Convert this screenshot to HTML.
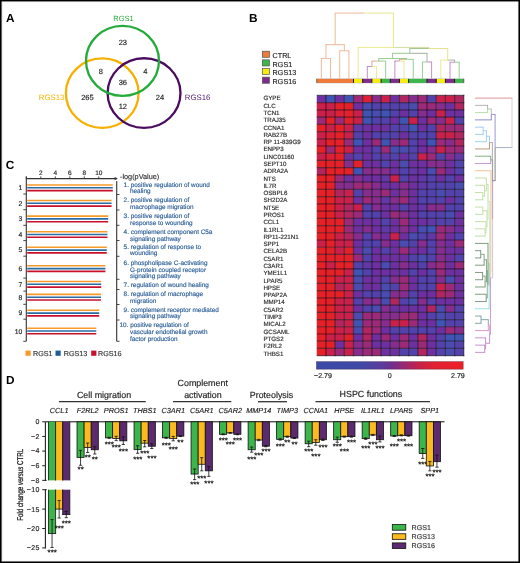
<!DOCTYPE html>
<html><head><meta charset="utf-8"><style>
html,body{margin:0;padding:0;background:#fff;}
svg{display:block;will-change:transform;}
text{font-family:"Liberation Sans", sans-serif;text-rendering:geometricPrecision;}
</style></head><body>
<svg width="520" height="563" viewBox="0 0 520 563">
<rect x="0" y="0" width="520" height="563" fill="#fff"/>
<text x="6.10" y="22.30" font-size="11.8" fill="#000" text-anchor="start" font-weight="bold">A</text>
<text x="248.90" y="22.30" font-size="11.8" fill="#000" text-anchor="start" font-weight="bold">B</text>
<text x="5.70" y="169.20" font-size="11.8" fill="#000" text-anchor="start" font-weight="bold">C</text>
<text x="6.10" y="384.10" font-size="11.8" fill="#000" text-anchor="start" font-weight="bold">D</text>
<ellipse cx="102.25" cy="93.15" rx="36.35" ry="34.75" fill="none" stroke="#f5b000" stroke-width="2.3"/>
<ellipse cx="144.05" cy="93.1" rx="36.45" ry="34.85" fill="none" stroke="#4a0b60" stroke-width="2.3"/>
<ellipse cx="122.5" cy="60.8" rx="36.5" ry="35.0" fill="none" stroke="#25ab3a" stroke-width="2.3"/>
<text x="123.50" y="21.00" font-size="7.5" fill="#25ab3a" text-anchor="middle">RGS1</text>
<text x="51.60" y="99.95" font-size="7.8" fill="#f5b000" text-anchor="middle">RGS13</text>
<text x="197.60" y="100.30" font-size="7.8" fill="#552070" text-anchor="middle">RGS16</text>
<text x="122.80" y="44.70" font-size="7.5" fill="#222" text-anchor="middle" stroke="#222" stroke-width="0.15">23</text>
<text x="100.80" y="73.50" font-size="7.5" fill="#222" text-anchor="middle" stroke="#222" stroke-width="0.15">8</text>
<text x="145.40" y="73.50" font-size="7.5" fill="#222" text-anchor="middle" stroke="#222" stroke-width="0.15">4</text>
<text x="122.80" y="85.00" font-size="7.5" fill="#222" text-anchor="middle" stroke="#222" stroke-width="0.15">36</text>
<text x="87.40" y="100.10" font-size="7.5" fill="#222" text-anchor="middle" stroke="#222" stroke-width="0.15">265</text>
<text x="160.00" y="100.40" font-size="7.5" fill="#222" text-anchor="middle" stroke="#222" stroke-width="0.15">24</text>
<text x="122.80" y="108.50" font-size="7.5" fill="#222" text-anchor="middle" stroke="#222" stroke-width="0.15">12</text>
<rect x="262.40" y="51.20" width="7.00" height="6.10" fill="#f07a38" stroke="#555" stroke-width="0.7"/>
<text x="272.60" y="57.90" font-size="7.2" fill="#222" text-anchor="start" stroke="#222" stroke-width="0.15">CTRL</text>
<rect x="262.40" y="59.85" width="7.00" height="6.10" fill="#3cb54a" stroke="#555" stroke-width="0.7"/>
<text x="272.60" y="66.55" font-size="7.2" fill="#222" text-anchor="start" stroke="#222" stroke-width="0.15">RGS1</text>
<rect x="262.40" y="68.50" width="7.00" height="6.10" fill="#f5ee10" stroke="#555" stroke-width="0.7"/>
<text x="272.60" y="75.20" font-size="7.2" fill="#222" text-anchor="start" stroke="#222" stroke-width="0.15">RGS13</text>
<rect x="262.40" y="77.15" width="7.00" height="6.10" fill="#7e2a8e" stroke="#555" stroke-width="0.7"/>
<text x="272.60" y="83.85" font-size="7.2" fill="#222" text-anchor="start" stroke="#222" stroke-width="0.15">RGS16</text>
<line x1="321.35" y1="78.80" x2="321.35" y2="58.50" stroke="#eeb090" stroke-width="0.9"/>
<line x1="330.54" y1="78.80" x2="330.54" y2="58.50" stroke="#eeb090" stroke-width="0.9"/>
<line x1="320.90" y1="58.50" x2="325.94" y2="58.50" stroke="#eeb090" stroke-width="0.9"/>
<line x1="325.94" y1="58.50" x2="330.99" y2="58.50" stroke="#eeb090" stroke-width="0.9"/>
<line x1="339.73" y1="78.80" x2="339.73" y2="50.80" stroke="#eeb090" stroke-width="0.9"/>
<line x1="348.92" y1="78.80" x2="348.92" y2="50.80" stroke="#eeb090" stroke-width="0.9"/>
<line x1="339.28" y1="50.80" x2="344.32" y2="50.80" stroke="#eeb090" stroke-width="0.9"/>
<line x1="344.32" y1="50.80" x2="349.37" y2="50.80" stroke="#eeb090" stroke-width="0.9"/>
<line x1="325.94" y1="58.50" x2="325.94" y2="44.70" stroke="#eeb090" stroke-width="0.9"/>
<line x1="344.32" y1="50.80" x2="344.32" y2="44.70" stroke="#eeb090" stroke-width="0.9"/>
<line x1="325.49" y1="44.70" x2="335.13" y2="44.70" stroke="#eeb090" stroke-width="0.9"/>
<line x1="335.13" y1="44.70" x2="344.77" y2="44.70" stroke="#eeb090" stroke-width="0.9"/>
<line x1="367.30" y1="78.80" x2="367.30" y2="66.50" stroke="#c080c8" stroke-width="0.9"/>
<line x1="376.49" y1="78.80" x2="376.49" y2="66.50" stroke="#e8e888" stroke-width="0.9"/>
<line x1="366.85" y1="66.50" x2="371.89" y2="66.50" stroke="#c080c8" stroke-width="0.9"/>
<line x1="371.89" y1="66.50" x2="376.94" y2="66.50" stroke="#e8e888" stroke-width="0.9"/>
<line x1="371.89" y1="66.50" x2="371.89" y2="61.10" stroke="#d0a880" stroke-width="0.9"/>
<line x1="385.68" y1="78.80" x2="385.68" y2="61.10" stroke="#88cc88" stroke-width="0.9"/>
<line x1="371.44" y1="61.10" x2="378.78" y2="61.10" stroke="#d0a880" stroke-width="0.9"/>
<line x1="378.78" y1="61.10" x2="386.12" y2="61.10" stroke="#88cc88" stroke-width="0.9"/>
<line x1="394.87" y1="78.80" x2="394.87" y2="61.00" stroke="#c080c8" stroke-width="0.9"/>
<line x1="404.06" y1="78.80" x2="404.06" y2="61.00" stroke="#e8e888" stroke-width="0.9"/>
<line x1="394.42" y1="61.00" x2="399.46" y2="61.00" stroke="#c080c8" stroke-width="0.9"/>
<line x1="399.46" y1="61.00" x2="404.50" y2="61.00" stroke="#e8e888" stroke-width="0.9"/>
<line x1="399.46" y1="61.00" x2="399.46" y2="59.30" stroke="#d0a880" stroke-width="0.9"/>
<line x1="413.25" y1="78.80" x2="413.25" y2="59.30" stroke="#88cc88" stroke-width="0.9"/>
<line x1="399.01" y1="59.30" x2="406.35" y2="59.30" stroke="#d0a880" stroke-width="0.9"/>
<line x1="406.35" y1="59.30" x2="413.69" y2="59.30" stroke="#88cc88" stroke-width="0.9"/>
<line x1="378.78" y1="61.10" x2="378.78" y2="58.50" stroke="#90c888" stroke-width="0.9"/>
<line x1="406.35" y1="59.30" x2="406.35" y2="58.50" stroke="#90c888" stroke-width="0.9"/>
<line x1="378.33" y1="58.50" x2="392.57" y2="58.50" stroke="#90c888" stroke-width="0.9"/>
<line x1="392.57" y1="58.50" x2="406.80" y2="58.50" stroke="#90c888" stroke-width="0.9"/>
<line x1="422.44" y1="78.80" x2="422.44" y2="62.00" stroke="#88cc88" stroke-width="0.9"/>
<line x1="431.62" y1="78.80" x2="431.62" y2="62.00" stroke="#c080c8" stroke-width="0.9"/>
<line x1="421.99" y1="62.00" x2="427.03" y2="62.00" stroke="#88cc88" stroke-width="0.9"/>
<line x1="427.03" y1="62.00" x2="432.07" y2="62.00" stroke="#c080c8" stroke-width="0.9"/>
<line x1="392.57" y1="58.50" x2="392.57" y2="53.30" stroke="#90c488" stroke-width="0.9"/>
<line x1="427.03" y1="62.00" x2="427.03" y2="53.30" stroke="#98a898" stroke-width="0.9"/>
<line x1="392.12" y1="53.30" x2="409.80" y2="53.30" stroke="#90c488" stroke-width="0.9"/>
<line x1="409.80" y1="53.30" x2="427.48" y2="53.30" stroke="#98a898" stroke-width="0.9"/>
<line x1="450.00" y1="78.80" x2="450.00" y2="62.20" stroke="#c080c8" stroke-width="0.9"/>
<line x1="459.19" y1="78.80" x2="459.19" y2="62.20" stroke="#88cc88" stroke-width="0.9"/>
<line x1="449.56" y1="62.20" x2="454.60" y2="62.20" stroke="#c080c8" stroke-width="0.9"/>
<line x1="454.60" y1="62.20" x2="459.64" y2="62.20" stroke="#88cc88" stroke-width="0.9"/>
<line x1="440.81" y1="78.80" x2="440.81" y2="60.10" stroke="#e8e888" stroke-width="0.9"/>
<line x1="454.60" y1="62.20" x2="454.60" y2="60.10" stroke="#a0a8a0" stroke-width="0.9"/>
<line x1="440.37" y1="60.10" x2="447.71" y2="60.10" stroke="#e8e888" stroke-width="0.9"/>
<line x1="447.71" y1="60.10" x2="455.05" y2="60.10" stroke="#a0a8a0" stroke-width="0.9"/>
<line x1="409.80" y1="53.30" x2="409.80" y2="48.50" stroke="#98c088" stroke-width="0.9"/>
<line x1="447.71" y1="60.10" x2="447.71" y2="48.50" stroke="#e0e080" stroke-width="0.9"/>
<line x1="409.35" y1="48.50" x2="428.75" y2="48.50" stroke="#98c088" stroke-width="0.9"/>
<line x1="428.75" y1="48.50" x2="448.16" y2="48.50" stroke="#e0e080" stroke-width="0.9"/>
<line x1="358.11" y1="78.80" x2="358.11" y2="47.40" stroke="#e8e888" stroke-width="0.9"/>
<line x1="428.75" y1="48.50" x2="428.75" y2="47.40" stroke="#cad898" stroke-width="0.9"/>
<line x1="357.66" y1="47.40" x2="393.43" y2="47.40" stroke="#e8e888" stroke-width="0.9"/>
<line x1="393.43" y1="47.40" x2="429.20" y2="47.40" stroke="#cad898" stroke-width="0.9"/>
<line x1="335.13" y1="44.70" x2="335.13" y2="13.10" stroke="#eeb090" stroke-width="0.9"/>
<line x1="393.43" y1="47.40" x2="393.43" y2="13.10" stroke="#e4e484" stroke-width="0.9"/>
<line x1="334.68" y1="13.10" x2="364.28" y2="13.10" stroke="#eeb090" stroke-width="0.9"/>
<line x1="364.28" y1="13.10" x2="393.88" y2="13.10" stroke="#e4e484" stroke-width="0.9"/>
<rect x="316.45" y="78.50" width="147.64" height="4.80" fill="#b8b8b8"/>
<rect x="316.75" y="78.90" width="36.76" height="4.00" fill="#f07a38"/>
<rect x="353.51" y="78.90" width="9.19" height="4.00" fill="#f5ee10"/>
<rect x="362.70" y="78.90" width="9.19" height="4.00" fill="#7e2a8e"/>
<rect x="371.89" y="78.90" width="9.19" height="4.00" fill="#f5ee10"/>
<rect x="381.08" y="78.90" width="9.19" height="4.00" fill="#3cb54a"/>
<rect x="390.27" y="78.90" width="9.19" height="4.00" fill="#7e2a8e"/>
<rect x="399.46" y="78.90" width="9.19" height="4.00" fill="#f5ee10"/>
<rect x="408.65" y="78.90" width="18.38" height="4.00" fill="#3cb54a"/>
<rect x="427.03" y="78.90" width="9.19" height="4.00" fill="#7e2a8e"/>
<rect x="436.22" y="78.90" width="9.19" height="4.00" fill="#f5ee10"/>
<rect x="445.41" y="78.90" width="9.19" height="4.00" fill="#7e2a8e"/>
<rect x="454.60" y="78.90" width="9.19" height="4.00" fill="#3cb54a"/>
<line x1="353.51" y1="78.90" x2="353.51" y2="82.90" stroke="#1a1a1a" stroke-width="1.0"/>
<line x1="362.70" y1="78.90" x2="362.70" y2="82.90" stroke="#1a1a1a" stroke-width="1.0"/>
<line x1="371.89" y1="78.90" x2="371.89" y2="82.90" stroke="#1a1a1a" stroke-width="1.0"/>
<line x1="381.08" y1="78.90" x2="381.08" y2="82.90" stroke="#1a1a1a" stroke-width="1.0"/>
<line x1="390.27" y1="78.90" x2="390.27" y2="82.90" stroke="#1a1a1a" stroke-width="1.0"/>
<line x1="399.46" y1="78.90" x2="399.46" y2="82.90" stroke="#1a1a1a" stroke-width="1.0"/>
<line x1="408.65" y1="78.90" x2="408.65" y2="82.90" stroke="#1a1a1a" stroke-width="1.0"/>
<line x1="427.03" y1="78.90" x2="427.03" y2="82.90" stroke="#1a1a1a" stroke-width="1.0"/>
<line x1="436.22" y1="78.90" x2="436.22" y2="82.90" stroke="#1a1a1a" stroke-width="1.0"/>
<line x1="445.41" y1="78.90" x2="445.41" y2="82.90" stroke="#1a1a1a" stroke-width="1.0"/>
<line x1="454.60" y1="78.90" x2="454.60" y2="82.90" stroke="#1a1a1a" stroke-width="1.0"/>
<line x1="316.75" y1="78.90" x2="316.75" y2="82.90" stroke="#555" stroke-width="0.8"/>
<line x1="463.79" y1="78.90" x2="463.79" y2="82.90" stroke="#555" stroke-width="0.8"/>
<rect x="316.75" y="95.40" width="9.24" height="7.28" fill="#6e30a0"/>
<rect x="325.94" y="95.40" width="9.24" height="7.28" fill="#3f55b3"/>
<rect x="335.13" y="95.40" width="9.24" height="7.28" fill="#6e30a0"/>
<rect x="344.32" y="95.40" width="9.24" height="7.28" fill="#3f55b3"/>
<rect x="353.51" y="95.40" width="9.24" height="7.28" fill="#9c2a78"/>
<rect x="362.70" y="95.40" width="9.24" height="7.28" fill="#de2036"/>
<rect x="371.89" y="95.40" width="9.24" height="7.28" fill="#862d8e"/>
<rect x="381.08" y="95.40" width="9.24" height="7.28" fill="#ca2049"/>
<rect x="390.27" y="95.40" width="9.24" height="7.28" fill="#6e30a0"/>
<rect x="399.46" y="95.40" width="9.24" height="7.28" fill="#b2265f"/>
<rect x="408.65" y="95.40" width="9.24" height="7.28" fill="#862d8e"/>
<rect x="417.84" y="95.40" width="9.24" height="7.28" fill="#9c2a78"/>
<rect x="427.03" y="95.40" width="9.24" height="7.28" fill="#5442ac"/>
<rect x="436.22" y="95.40" width="9.24" height="7.28" fill="#ca2049"/>
<rect x="445.41" y="95.40" width="9.24" height="7.28" fill="#ca2049"/>
<rect x="454.60" y="95.40" width="9.24" height="7.28" fill="#b2265f"/>
<rect x="316.75" y="102.63" width="9.24" height="7.28" fill="#ca2049"/>
<rect x="325.94" y="102.63" width="9.24" height="7.28" fill="#ca2049"/>
<rect x="335.13" y="102.63" width="9.24" height="7.28" fill="#e52027"/>
<rect x="344.32" y="102.63" width="9.24" height="7.28" fill="#e52027"/>
<rect x="353.51" y="102.63" width="9.24" height="7.28" fill="#6e30a0"/>
<rect x="362.70" y="102.63" width="9.24" height="7.28" fill="#4a4cb0"/>
<rect x="371.89" y="102.63" width="9.24" height="7.28" fill="#5442ac"/>
<rect x="381.08" y="102.63" width="9.24" height="7.28" fill="#5442ac"/>
<rect x="390.27" y="102.63" width="9.24" height="7.28" fill="#5442ac"/>
<rect x="399.46" y="102.63" width="9.24" height="7.28" fill="#5442ac"/>
<rect x="408.65" y="102.63" width="9.24" height="7.28" fill="#4a4cb0"/>
<rect x="417.84" y="102.63" width="9.24" height="7.28" fill="#9c2a78"/>
<rect x="427.03" y="102.63" width="9.24" height="7.28" fill="#9c2a78"/>
<rect x="436.22" y="102.63" width="9.24" height="7.28" fill="#862d8e"/>
<rect x="445.41" y="102.63" width="9.24" height="7.28" fill="#6e30a0"/>
<rect x="454.60" y="102.63" width="9.24" height="7.28" fill="#b2265f"/>
<rect x="316.75" y="109.86" width="9.24" height="7.28" fill="#ca2049"/>
<rect x="325.94" y="109.86" width="9.24" height="7.28" fill="#ca2049"/>
<rect x="335.13" y="109.86" width="9.24" height="7.28" fill="#de2036"/>
<rect x="344.32" y="109.86" width="9.24" height="7.28" fill="#e52027"/>
<rect x="353.51" y="109.86" width="9.24" height="7.28" fill="#ca2049"/>
<rect x="362.70" y="109.86" width="9.24" height="7.28" fill="#3f55b3"/>
<rect x="371.89" y="109.86" width="9.24" height="7.28" fill="#4a4cb0"/>
<rect x="381.08" y="109.86" width="9.24" height="7.28" fill="#3f55b3"/>
<rect x="390.27" y="109.86" width="9.24" height="7.28" fill="#5442ac"/>
<rect x="399.46" y="109.86" width="9.24" height="7.28" fill="#6e30a0"/>
<rect x="408.65" y="109.86" width="9.24" height="7.28" fill="#5442ac"/>
<rect x="417.84" y="109.86" width="9.24" height="7.28" fill="#862d8e"/>
<rect x="427.03" y="109.86" width="9.24" height="7.28" fill="#6e30a0"/>
<rect x="436.22" y="109.86" width="9.24" height="7.28" fill="#ca2049"/>
<rect x="445.41" y="109.86" width="9.24" height="7.28" fill="#6e30a0"/>
<rect x="454.60" y="109.86" width="9.24" height="7.28" fill="#6e30a0"/>
<rect x="316.75" y="117.09" width="9.24" height="7.28" fill="#9c2a78"/>
<rect x="325.94" y="117.09" width="9.24" height="7.28" fill="#e52027"/>
<rect x="335.13" y="117.09" width="9.24" height="7.28" fill="#9c2a78"/>
<rect x="344.32" y="117.09" width="9.24" height="7.28" fill="#e52027"/>
<rect x="353.51" y="117.09" width="9.24" height="7.28" fill="#ca2049"/>
<rect x="362.70" y="117.09" width="9.24" height="7.28" fill="#3f55b3"/>
<rect x="371.89" y="117.09" width="9.24" height="7.28" fill="#5442ac"/>
<rect x="381.08" y="117.09" width="9.24" height="7.28" fill="#5442ac"/>
<rect x="390.27" y="117.09" width="9.24" height="7.28" fill="#6e30a0"/>
<rect x="399.46" y="117.09" width="9.24" height="7.28" fill="#3f55b3"/>
<rect x="408.65" y="117.09" width="9.24" height="7.28" fill="#ca2049"/>
<rect x="417.84" y="117.09" width="9.24" height="7.28" fill="#6e30a0"/>
<rect x="427.03" y="117.09" width="9.24" height="7.28" fill="#9c2a78"/>
<rect x="436.22" y="117.09" width="9.24" height="7.28" fill="#862d8e"/>
<rect x="445.41" y="117.09" width="9.24" height="7.28" fill="#ca2049"/>
<rect x="454.60" y="117.09" width="9.24" height="7.28" fill="#5442ac"/>
<rect x="316.75" y="124.32" width="9.24" height="7.28" fill="#e52027"/>
<rect x="325.94" y="124.32" width="9.24" height="7.28" fill="#ca2049"/>
<rect x="335.13" y="124.32" width="9.24" height="7.28" fill="#e52027"/>
<rect x="344.32" y="124.32" width="9.24" height="7.28" fill="#ca2049"/>
<rect x="353.51" y="124.32" width="9.24" height="7.28" fill="#6238a6"/>
<rect x="362.70" y="124.32" width="9.24" height="7.28" fill="#6e30a0"/>
<rect x="371.89" y="124.32" width="9.24" height="7.28" fill="#6e30a0"/>
<rect x="381.08" y="124.32" width="9.24" height="7.28" fill="#6e30a0"/>
<rect x="390.27" y="124.32" width="9.24" height="7.28" fill="#5442ac"/>
<rect x="399.46" y="124.32" width="9.24" height="7.28" fill="#5442ac"/>
<rect x="408.65" y="124.32" width="9.24" height="7.28" fill="#3f55b3"/>
<rect x="417.84" y="124.32" width="9.24" height="7.28" fill="#6e30a0"/>
<rect x="427.03" y="124.32" width="9.24" height="7.28" fill="#5442ac"/>
<rect x="436.22" y="124.32" width="9.24" height="7.28" fill="#b2265f"/>
<rect x="445.41" y="124.32" width="9.24" height="7.28" fill="#9c2a78"/>
<rect x="454.60" y="124.32" width="9.24" height="7.28" fill="#9c2a78"/>
<rect x="316.75" y="131.55" width="9.24" height="7.28" fill="#ca2049"/>
<rect x="325.94" y="131.55" width="9.24" height="7.28" fill="#de2036"/>
<rect x="335.13" y="131.55" width="9.24" height="7.28" fill="#e52027"/>
<rect x="344.32" y="131.55" width="9.24" height="7.28" fill="#ca2049"/>
<rect x="353.51" y="131.55" width="9.24" height="7.28" fill="#5442ac"/>
<rect x="362.70" y="131.55" width="9.24" height="7.28" fill="#6e30a0"/>
<rect x="371.89" y="131.55" width="9.24" height="7.28" fill="#5442ac"/>
<rect x="381.08" y="131.55" width="9.24" height="7.28" fill="#5442ac"/>
<rect x="390.27" y="131.55" width="9.24" height="7.28" fill="#5442ac"/>
<rect x="399.46" y="131.55" width="9.24" height="7.28" fill="#6e30a0"/>
<rect x="408.65" y="131.55" width="9.24" height="7.28" fill="#5442ac"/>
<rect x="417.84" y="131.55" width="9.24" height="7.28" fill="#5442ac"/>
<rect x="427.03" y="131.55" width="9.24" height="7.28" fill="#5442ac"/>
<rect x="436.22" y="131.55" width="9.24" height="7.28" fill="#ca2049"/>
<rect x="445.41" y="131.55" width="9.24" height="7.28" fill="#ca2049"/>
<rect x="454.60" y="131.55" width="9.24" height="7.28" fill="#b2265f"/>
<rect x="316.75" y="138.78" width="9.24" height="7.28" fill="#ca2049"/>
<rect x="325.94" y="138.78" width="9.24" height="7.28" fill="#e52027"/>
<rect x="335.13" y="138.78" width="9.24" height="7.28" fill="#e52027"/>
<rect x="344.32" y="138.78" width="9.24" height="7.28" fill="#9c2a78"/>
<rect x="353.51" y="138.78" width="9.24" height="7.28" fill="#3f55b3"/>
<rect x="362.70" y="138.78" width="9.24" height="7.28" fill="#6e30a0"/>
<rect x="371.89" y="138.78" width="9.24" height="7.28" fill="#9c2a78"/>
<rect x="381.08" y="138.78" width="9.24" height="7.28" fill="#3f55b3"/>
<rect x="390.27" y="138.78" width="9.24" height="7.28" fill="#862d8e"/>
<rect x="399.46" y="138.78" width="9.24" height="7.28" fill="#9c2a78"/>
<rect x="408.65" y="138.78" width="9.24" height="7.28" fill="#5442ac"/>
<rect x="417.84" y="138.78" width="9.24" height="7.28" fill="#6e30a0"/>
<rect x="427.03" y="138.78" width="9.24" height="7.28" fill="#3f55b3"/>
<rect x="436.22" y="138.78" width="9.24" height="7.28" fill="#9c2a78"/>
<rect x="445.41" y="138.78" width="9.24" height="7.28" fill="#862d8e"/>
<rect x="454.60" y="138.78" width="9.24" height="7.28" fill="#b2265f"/>
<rect x="316.75" y="146.01" width="9.24" height="7.28" fill="#e52027"/>
<rect x="325.94" y="146.01" width="9.24" height="7.28" fill="#9c2a78"/>
<rect x="335.13" y="146.01" width="9.24" height="7.28" fill="#e52027"/>
<rect x="344.32" y="146.01" width="9.24" height="7.28" fill="#ca2049"/>
<rect x="353.51" y="146.01" width="9.24" height="7.28" fill="#6e30a0"/>
<rect x="362.70" y="146.01" width="9.24" height="7.28" fill="#6e30a0"/>
<rect x="371.89" y="146.01" width="9.24" height="7.28" fill="#5442ac"/>
<rect x="381.08" y="146.01" width="9.24" height="7.28" fill="#9c2a78"/>
<rect x="390.27" y="146.01" width="9.24" height="7.28" fill="#4a4cb0"/>
<rect x="399.46" y="146.01" width="9.24" height="7.28" fill="#4a4cb0"/>
<rect x="408.65" y="146.01" width="9.24" height="7.28" fill="#5442ac"/>
<rect x="417.84" y="146.01" width="9.24" height="7.28" fill="#6e30a0"/>
<rect x="427.03" y="146.01" width="9.24" height="7.28" fill="#862d8e"/>
<rect x="436.22" y="146.01" width="9.24" height="7.28" fill="#ca2049"/>
<rect x="445.41" y="146.01" width="9.24" height="7.28" fill="#9c2a78"/>
<rect x="454.60" y="146.01" width="9.24" height="7.28" fill="#9c2a78"/>
<rect x="316.75" y="153.24" width="9.24" height="7.28" fill="#ca2049"/>
<rect x="325.94" y="153.24" width="9.24" height="7.28" fill="#de2036"/>
<rect x="335.13" y="153.24" width="9.24" height="7.28" fill="#e52027"/>
<rect x="344.32" y="153.24" width="9.24" height="7.28" fill="#6e30a0"/>
<rect x="353.51" y="153.24" width="9.24" height="7.28" fill="#5442ac"/>
<rect x="362.70" y="153.24" width="9.24" height="7.28" fill="#6e30a0"/>
<rect x="371.89" y="153.24" width="9.24" height="7.28" fill="#5442ac"/>
<rect x="381.08" y="153.24" width="9.24" height="7.28" fill="#6238a6"/>
<rect x="390.27" y="153.24" width="9.24" height="7.28" fill="#5442ac"/>
<rect x="399.46" y="153.24" width="9.24" height="7.28" fill="#6e30a0"/>
<rect x="408.65" y="153.24" width="9.24" height="7.28" fill="#5442ac"/>
<rect x="417.84" y="153.24" width="9.24" height="7.28" fill="#ca2049"/>
<rect x="427.03" y="153.24" width="9.24" height="7.28" fill="#9c2a78"/>
<rect x="436.22" y="153.24" width="9.24" height="7.28" fill="#5442ac"/>
<rect x="445.41" y="153.24" width="9.24" height="7.28" fill="#862d8e"/>
<rect x="454.60" y="153.24" width="9.24" height="7.28" fill="#6238a6"/>
<rect x="316.75" y="160.47" width="9.24" height="7.28" fill="#e52027"/>
<rect x="325.94" y="160.47" width="9.24" height="7.28" fill="#e52027"/>
<rect x="335.13" y="160.47" width="9.24" height="7.28" fill="#e52027"/>
<rect x="344.32" y="160.47" width="9.24" height="7.28" fill="#862d8e"/>
<rect x="353.51" y="160.47" width="9.24" height="7.28" fill="#e52027"/>
<rect x="362.70" y="160.47" width="9.24" height="7.28" fill="#6e30a0"/>
<rect x="371.89" y="160.47" width="9.24" height="7.28" fill="#6e30a0"/>
<rect x="381.08" y="160.47" width="9.24" height="7.28" fill="#5442ac"/>
<rect x="390.27" y="160.47" width="9.24" height="7.28" fill="#6e30a0"/>
<rect x="399.46" y="160.47" width="9.24" height="7.28" fill="#4a4cb0"/>
<rect x="408.65" y="160.47" width="9.24" height="7.28" fill="#6e30a0"/>
<rect x="417.84" y="160.47" width="9.24" height="7.28" fill="#6e30a0"/>
<rect x="427.03" y="160.47" width="9.24" height="7.28" fill="#862d8e"/>
<rect x="436.22" y="160.47" width="9.24" height="7.28" fill="#862d8e"/>
<rect x="445.41" y="160.47" width="9.24" height="7.28" fill="#6e30a0"/>
<rect x="454.60" y="160.47" width="9.24" height="7.28" fill="#5442ac"/>
<rect x="316.75" y="167.70" width="9.24" height="7.28" fill="#b2265f"/>
<rect x="325.94" y="167.70" width="9.24" height="7.28" fill="#e52027"/>
<rect x="335.13" y="167.70" width="9.24" height="7.28" fill="#e52027"/>
<rect x="344.32" y="167.70" width="9.24" height="7.28" fill="#e52027"/>
<rect x="353.51" y="167.70" width="9.24" height="7.28" fill="#3f55b3"/>
<rect x="362.70" y="167.70" width="9.24" height="7.28" fill="#862d8e"/>
<rect x="371.89" y="167.70" width="9.24" height="7.28" fill="#862d8e"/>
<rect x="381.08" y="167.70" width="9.24" height="7.28" fill="#862d8e"/>
<rect x="390.27" y="167.70" width="9.24" height="7.28" fill="#6e30a0"/>
<rect x="399.46" y="167.70" width="9.24" height="7.28" fill="#5442ac"/>
<rect x="408.65" y="167.70" width="9.24" height="7.28" fill="#6238a6"/>
<rect x="417.84" y="167.70" width="9.24" height="7.28" fill="#6e30a0"/>
<rect x="427.03" y="167.70" width="9.24" height="7.28" fill="#4a4cb0"/>
<rect x="436.22" y="167.70" width="9.24" height="7.28" fill="#9c2a78"/>
<rect x="445.41" y="167.70" width="9.24" height="7.28" fill="#6e30a0"/>
<rect x="454.60" y="167.70" width="9.24" height="7.28" fill="#5442ac"/>
<rect x="316.75" y="174.93" width="9.24" height="7.28" fill="#e52027"/>
<rect x="325.94" y="174.93" width="9.24" height="7.28" fill="#e52027"/>
<rect x="335.13" y="174.93" width="9.24" height="7.28" fill="#9c2a78"/>
<rect x="344.32" y="174.93" width="9.24" height="7.28" fill="#6e30a0"/>
<rect x="353.51" y="174.93" width="9.24" height="7.28" fill="#862d8e"/>
<rect x="362.70" y="174.93" width="9.24" height="7.28" fill="#6e30a0"/>
<rect x="371.89" y="174.93" width="9.24" height="7.28" fill="#6e30a0"/>
<rect x="381.08" y="174.93" width="9.24" height="7.28" fill="#6238a6"/>
<rect x="390.27" y="174.93" width="9.24" height="7.28" fill="#ca2049"/>
<rect x="399.46" y="174.93" width="9.24" height="7.28" fill="#5442ac"/>
<rect x="408.65" y="174.93" width="9.24" height="7.28" fill="#6e30a0"/>
<rect x="417.84" y="174.93" width="9.24" height="7.28" fill="#6238a6"/>
<rect x="427.03" y="174.93" width="9.24" height="7.28" fill="#5442ac"/>
<rect x="436.22" y="174.93" width="9.24" height="7.28" fill="#6e30a0"/>
<rect x="445.41" y="174.93" width="9.24" height="7.28" fill="#5442ac"/>
<rect x="454.60" y="174.93" width="9.24" height="7.28" fill="#6e30a0"/>
<rect x="316.75" y="182.16" width="9.24" height="7.28" fill="#e52027"/>
<rect x="325.94" y="182.16" width="9.24" height="7.28" fill="#e52027"/>
<rect x="335.13" y="182.16" width="9.24" height="7.28" fill="#862d8e"/>
<rect x="344.32" y="182.16" width="9.24" height="7.28" fill="#862d8e"/>
<rect x="353.51" y="182.16" width="9.24" height="7.28" fill="#9c2a78"/>
<rect x="362.70" y="182.16" width="9.24" height="7.28" fill="#9c2a78"/>
<rect x="371.89" y="182.16" width="9.24" height="7.28" fill="#862d8e"/>
<rect x="381.08" y="182.16" width="9.24" height="7.28" fill="#6e30a0"/>
<rect x="390.27" y="182.16" width="9.24" height="7.28" fill="#6e30a0"/>
<rect x="399.46" y="182.16" width="9.24" height="7.28" fill="#862d8e"/>
<rect x="408.65" y="182.16" width="9.24" height="7.28" fill="#6e30a0"/>
<rect x="417.84" y="182.16" width="9.24" height="7.28" fill="#6238a6"/>
<rect x="427.03" y="182.16" width="9.24" height="7.28" fill="#5442ac"/>
<rect x="436.22" y="182.16" width="9.24" height="7.28" fill="#5442ac"/>
<rect x="445.41" y="182.16" width="9.24" height="7.28" fill="#5442ac"/>
<rect x="454.60" y="182.16" width="9.24" height="7.28" fill="#4a4cb0"/>
<rect x="316.75" y="189.39" width="9.24" height="7.28" fill="#e52027"/>
<rect x="325.94" y="189.39" width="9.24" height="7.28" fill="#e52027"/>
<rect x="335.13" y="189.39" width="9.24" height="7.28" fill="#b2265f"/>
<rect x="344.32" y="189.39" width="9.24" height="7.28" fill="#ca2049"/>
<rect x="353.51" y="189.39" width="9.24" height="7.28" fill="#5442ac"/>
<rect x="362.70" y="189.39" width="9.24" height="7.28" fill="#862d8e"/>
<rect x="371.89" y="189.39" width="9.24" height="7.28" fill="#862d8e"/>
<rect x="381.08" y="189.39" width="9.24" height="7.28" fill="#9c2a78"/>
<rect x="390.27" y="189.39" width="9.24" height="7.28" fill="#6e30a0"/>
<rect x="399.46" y="189.39" width="9.24" height="7.28" fill="#862d8e"/>
<rect x="408.65" y="189.39" width="9.24" height="7.28" fill="#6e30a0"/>
<rect x="417.84" y="189.39" width="9.24" height="7.28" fill="#5442ac"/>
<rect x="427.03" y="189.39" width="9.24" height="7.28" fill="#5442ac"/>
<rect x="436.22" y="189.39" width="9.24" height="7.28" fill="#4a4cb0"/>
<rect x="445.41" y="189.39" width="9.24" height="7.28" fill="#5442ac"/>
<rect x="454.60" y="189.39" width="9.24" height="7.28" fill="#5442ac"/>
<rect x="316.75" y="196.62" width="9.24" height="7.28" fill="#e52027"/>
<rect x="325.94" y="196.62" width="9.24" height="7.28" fill="#e52027"/>
<rect x="335.13" y="196.62" width="9.24" height="7.28" fill="#ca2049"/>
<rect x="344.32" y="196.62" width="9.24" height="7.28" fill="#ca2049"/>
<rect x="353.51" y="196.62" width="9.24" height="7.28" fill="#6e30a0"/>
<rect x="362.70" y="196.62" width="9.24" height="7.28" fill="#9c2a78"/>
<rect x="371.89" y="196.62" width="9.24" height="7.28" fill="#862d8e"/>
<rect x="381.08" y="196.62" width="9.24" height="7.28" fill="#6238a6"/>
<rect x="390.27" y="196.62" width="9.24" height="7.28" fill="#862d8e"/>
<rect x="399.46" y="196.62" width="9.24" height="7.28" fill="#9c2a78"/>
<rect x="408.65" y="196.62" width="9.24" height="7.28" fill="#6e30a0"/>
<rect x="417.84" y="196.62" width="9.24" height="7.28" fill="#5442ac"/>
<rect x="427.03" y="196.62" width="9.24" height="7.28" fill="#5442ac"/>
<rect x="436.22" y="196.62" width="9.24" height="7.28" fill="#5442ac"/>
<rect x="445.41" y="196.62" width="9.24" height="7.28" fill="#6e30a0"/>
<rect x="454.60" y="196.62" width="9.24" height="7.28" fill="#5442ac"/>
<rect x="316.75" y="203.85" width="9.24" height="7.28" fill="#e52027"/>
<rect x="325.94" y="203.85" width="9.24" height="7.28" fill="#e52027"/>
<rect x="335.13" y="203.85" width="9.24" height="7.28" fill="#ca2049"/>
<rect x="344.32" y="203.85" width="9.24" height="7.28" fill="#b2265f"/>
<rect x="353.51" y="203.85" width="9.24" height="7.28" fill="#ca2049"/>
<rect x="362.70" y="203.85" width="9.24" height="7.28" fill="#5442ac"/>
<rect x="371.89" y="203.85" width="9.24" height="7.28" fill="#862d8e"/>
<rect x="381.08" y="203.85" width="9.24" height="7.28" fill="#6e30a0"/>
<rect x="390.27" y="203.85" width="9.24" height="7.28" fill="#6e30a0"/>
<rect x="399.46" y="203.85" width="9.24" height="7.28" fill="#5442ac"/>
<rect x="408.65" y="203.85" width="9.24" height="7.28" fill="#6e30a0"/>
<rect x="417.84" y="203.85" width="9.24" height="7.28" fill="#6238a6"/>
<rect x="427.03" y="203.85" width="9.24" height="7.28" fill="#862d8e"/>
<rect x="436.22" y="203.85" width="9.24" height="7.28" fill="#862d8e"/>
<rect x="445.41" y="203.85" width="9.24" height="7.28" fill="#5442ac"/>
<rect x="454.60" y="203.85" width="9.24" height="7.28" fill="#5442ac"/>
<rect x="316.75" y="211.08" width="9.24" height="7.28" fill="#e52027"/>
<rect x="325.94" y="211.08" width="9.24" height="7.28" fill="#e52027"/>
<rect x="335.13" y="211.08" width="9.24" height="7.28" fill="#ca2049"/>
<rect x="344.32" y="211.08" width="9.24" height="7.28" fill="#b2265f"/>
<rect x="353.51" y="211.08" width="9.24" height="7.28" fill="#9c2a78"/>
<rect x="362.70" y="211.08" width="9.24" height="7.28" fill="#5442ac"/>
<rect x="371.89" y="211.08" width="9.24" height="7.28" fill="#5442ac"/>
<rect x="381.08" y="211.08" width="9.24" height="7.28" fill="#6e30a0"/>
<rect x="390.27" y="211.08" width="9.24" height="7.28" fill="#9c2a78"/>
<rect x="399.46" y="211.08" width="9.24" height="7.28" fill="#862d8e"/>
<rect x="408.65" y="211.08" width="9.24" height="7.28" fill="#6e30a0"/>
<rect x="417.84" y="211.08" width="9.24" height="7.28" fill="#5442ac"/>
<rect x="427.03" y="211.08" width="9.24" height="7.28" fill="#5442ac"/>
<rect x="436.22" y="211.08" width="9.24" height="7.28" fill="#5442ac"/>
<rect x="445.41" y="211.08" width="9.24" height="7.28" fill="#4a4cb0"/>
<rect x="454.60" y="211.08" width="9.24" height="7.28" fill="#6e30a0"/>
<rect x="316.75" y="218.31" width="9.24" height="7.28" fill="#e52027"/>
<rect x="325.94" y="218.31" width="9.24" height="7.28" fill="#e52027"/>
<rect x="335.13" y="218.31" width="9.24" height="7.28" fill="#e52027"/>
<rect x="344.32" y="218.31" width="9.24" height="7.28" fill="#9c2a78"/>
<rect x="353.51" y="218.31" width="9.24" height="7.28" fill="#6e30a0"/>
<rect x="362.70" y="218.31" width="9.24" height="7.28" fill="#6e30a0"/>
<rect x="371.89" y="218.31" width="9.24" height="7.28" fill="#6e30a0"/>
<rect x="381.08" y="218.31" width="9.24" height="7.28" fill="#5442ac"/>
<rect x="390.27" y="218.31" width="9.24" height="7.28" fill="#6e30a0"/>
<rect x="399.46" y="218.31" width="9.24" height="7.28" fill="#9c2a78"/>
<rect x="408.65" y="218.31" width="9.24" height="7.28" fill="#6e30a0"/>
<rect x="417.84" y="218.31" width="9.24" height="7.28" fill="#6e30a0"/>
<rect x="427.03" y="218.31" width="9.24" height="7.28" fill="#6238a6"/>
<rect x="436.22" y="218.31" width="9.24" height="7.28" fill="#5442ac"/>
<rect x="445.41" y="218.31" width="9.24" height="7.28" fill="#5442ac"/>
<rect x="454.60" y="218.31" width="9.24" height="7.28" fill="#6e30a0"/>
<rect x="316.75" y="225.54" width="9.24" height="7.28" fill="#e52027"/>
<rect x="325.94" y="225.54" width="9.24" height="7.28" fill="#e52027"/>
<rect x="335.13" y="225.54" width="9.24" height="7.28" fill="#e52027"/>
<rect x="344.32" y="225.54" width="9.24" height="7.28" fill="#9c2a78"/>
<rect x="353.51" y="225.54" width="9.24" height="7.28" fill="#6e30a0"/>
<rect x="362.70" y="225.54" width="9.24" height="7.28" fill="#862d8e"/>
<rect x="371.89" y="225.54" width="9.24" height="7.28" fill="#6e30a0"/>
<rect x="381.08" y="225.54" width="9.24" height="7.28" fill="#6238a6"/>
<rect x="390.27" y="225.54" width="9.24" height="7.28" fill="#6e30a0"/>
<rect x="399.46" y="225.54" width="9.24" height="7.28" fill="#862d8e"/>
<rect x="408.65" y="225.54" width="9.24" height="7.28" fill="#6e30a0"/>
<rect x="417.84" y="225.54" width="9.24" height="7.28" fill="#4a4cb0"/>
<rect x="427.03" y="225.54" width="9.24" height="7.28" fill="#3f55b3"/>
<rect x="436.22" y="225.54" width="9.24" height="7.28" fill="#9c2a78"/>
<rect x="445.41" y="225.54" width="9.24" height="7.28" fill="#862d8e"/>
<rect x="454.60" y="225.54" width="9.24" height="7.28" fill="#6e30a0"/>
<rect x="316.75" y="232.77" width="9.24" height="7.28" fill="#e52027"/>
<rect x="325.94" y="232.77" width="9.24" height="7.28" fill="#e52027"/>
<rect x="335.13" y="232.77" width="9.24" height="7.28" fill="#ca2049"/>
<rect x="344.32" y="232.77" width="9.24" height="7.28" fill="#b2265f"/>
<rect x="353.51" y="232.77" width="9.24" height="7.28" fill="#862d8e"/>
<rect x="362.70" y="232.77" width="9.24" height="7.28" fill="#5442ac"/>
<rect x="371.89" y="232.77" width="9.24" height="7.28" fill="#862d8e"/>
<rect x="381.08" y="232.77" width="9.24" height="7.28" fill="#6e30a0"/>
<rect x="390.27" y="232.77" width="9.24" height="7.28" fill="#ca2049"/>
<rect x="399.46" y="232.77" width="9.24" height="7.28" fill="#6e30a0"/>
<rect x="408.65" y="232.77" width="9.24" height="7.28" fill="#4a4cb0"/>
<rect x="417.84" y="232.77" width="9.24" height="7.28" fill="#5442ac"/>
<rect x="427.03" y="232.77" width="9.24" height="7.28" fill="#6238a6"/>
<rect x="436.22" y="232.77" width="9.24" height="7.28" fill="#9c2a78"/>
<rect x="445.41" y="232.77" width="9.24" height="7.28" fill="#6e30a0"/>
<rect x="454.60" y="232.77" width="9.24" height="7.28" fill="#5442ac"/>
<rect x="316.75" y="240.00" width="9.24" height="7.28" fill="#ca2049"/>
<rect x="325.94" y="240.00" width="9.24" height="7.28" fill="#e52027"/>
<rect x="335.13" y="240.00" width="9.24" height="7.28" fill="#ca2049"/>
<rect x="344.32" y="240.00" width="9.24" height="7.28" fill="#ca2049"/>
<rect x="353.51" y="240.00" width="9.24" height="7.28" fill="#6e30a0"/>
<rect x="362.70" y="240.00" width="9.24" height="7.28" fill="#5442ac"/>
<rect x="371.89" y="240.00" width="9.24" height="7.28" fill="#5442ac"/>
<rect x="381.08" y="240.00" width="9.24" height="7.28" fill="#862d8e"/>
<rect x="390.27" y="240.00" width="9.24" height="7.28" fill="#6e30a0"/>
<rect x="399.46" y="240.00" width="9.24" height="7.28" fill="#4a4cb0"/>
<rect x="408.65" y="240.00" width="9.24" height="7.28" fill="#5442ac"/>
<rect x="417.84" y="240.00" width="9.24" height="7.28" fill="#862d8e"/>
<rect x="427.03" y="240.00" width="9.24" height="7.28" fill="#5442ac"/>
<rect x="436.22" y="240.00" width="9.24" height="7.28" fill="#862d8e"/>
<rect x="445.41" y="240.00" width="9.24" height="7.28" fill="#6e30a0"/>
<rect x="454.60" y="240.00" width="9.24" height="7.28" fill="#9c2a78"/>
<rect x="316.75" y="247.23" width="9.24" height="7.28" fill="#e52027"/>
<rect x="325.94" y="247.23" width="9.24" height="7.28" fill="#e52027"/>
<rect x="335.13" y="247.23" width="9.24" height="7.28" fill="#ca2049"/>
<rect x="344.32" y="247.23" width="9.24" height="7.28" fill="#e52027"/>
<rect x="353.51" y="247.23" width="9.24" height="7.28" fill="#6e30a0"/>
<rect x="362.70" y="247.23" width="9.24" height="7.28" fill="#4a4cb0"/>
<rect x="371.89" y="247.23" width="9.24" height="7.28" fill="#6e30a0"/>
<rect x="381.08" y="247.23" width="9.24" height="7.28" fill="#5442ac"/>
<rect x="390.27" y="247.23" width="9.24" height="7.28" fill="#6e30a0"/>
<rect x="399.46" y="247.23" width="9.24" height="7.28" fill="#9c2a78"/>
<rect x="408.65" y="247.23" width="9.24" height="7.28" fill="#6e30a0"/>
<rect x="417.84" y="247.23" width="9.24" height="7.28" fill="#6e30a0"/>
<rect x="427.03" y="247.23" width="9.24" height="7.28" fill="#5442ac"/>
<rect x="436.22" y="247.23" width="9.24" height="7.28" fill="#862d8e"/>
<rect x="445.41" y="247.23" width="9.24" height="7.28" fill="#6e30a0"/>
<rect x="454.60" y="247.23" width="9.24" height="7.28" fill="#6e30a0"/>
<rect x="316.75" y="254.46" width="9.24" height="7.28" fill="#e52027"/>
<rect x="325.94" y="254.46" width="9.24" height="7.28" fill="#e52027"/>
<rect x="335.13" y="254.46" width="9.24" height="7.28" fill="#e52027"/>
<rect x="344.32" y="254.46" width="9.24" height="7.28" fill="#e52027"/>
<rect x="353.51" y="254.46" width="9.24" height="7.28" fill="#9c2a78"/>
<rect x="362.70" y="254.46" width="9.24" height="7.28" fill="#5442ac"/>
<rect x="371.89" y="254.46" width="9.24" height="7.28" fill="#6e30a0"/>
<rect x="381.08" y="254.46" width="9.24" height="7.28" fill="#6e30a0"/>
<rect x="390.27" y="254.46" width="9.24" height="7.28" fill="#6e30a0"/>
<rect x="399.46" y="254.46" width="9.24" height="7.28" fill="#6e30a0"/>
<rect x="408.65" y="254.46" width="9.24" height="7.28" fill="#5442ac"/>
<rect x="417.84" y="254.46" width="9.24" height="7.28" fill="#4a4cb0"/>
<rect x="427.03" y="254.46" width="9.24" height="7.28" fill="#5442ac"/>
<rect x="436.22" y="254.46" width="9.24" height="7.28" fill="#862d8e"/>
<rect x="445.41" y="254.46" width="9.24" height="7.28" fill="#6e30a0"/>
<rect x="454.60" y="254.46" width="9.24" height="7.28" fill="#5442ac"/>
<rect x="316.75" y="261.69" width="9.24" height="7.28" fill="#e52027"/>
<rect x="325.94" y="261.69" width="9.24" height="7.28" fill="#ca2049"/>
<rect x="335.13" y="261.69" width="9.24" height="7.28" fill="#e52027"/>
<rect x="344.32" y="261.69" width="9.24" height="7.28" fill="#e52027"/>
<rect x="353.51" y="261.69" width="9.24" height="7.28" fill="#5442ac"/>
<rect x="362.70" y="261.69" width="9.24" height="7.28" fill="#6238a6"/>
<rect x="371.89" y="261.69" width="9.24" height="7.28" fill="#6e30a0"/>
<rect x="381.08" y="261.69" width="9.24" height="7.28" fill="#4a4cb0"/>
<rect x="390.27" y="261.69" width="9.24" height="7.28" fill="#6e30a0"/>
<rect x="399.46" y="261.69" width="9.24" height="7.28" fill="#862d8e"/>
<rect x="408.65" y="261.69" width="9.24" height="7.28" fill="#6e30a0"/>
<rect x="417.84" y="261.69" width="9.24" height="7.28" fill="#5442ac"/>
<rect x="427.03" y="261.69" width="9.24" height="7.28" fill="#862d8e"/>
<rect x="436.22" y="261.69" width="9.24" height="7.28" fill="#9c2a78"/>
<rect x="445.41" y="261.69" width="9.24" height="7.28" fill="#6e30a0"/>
<rect x="454.60" y="261.69" width="9.24" height="7.28" fill="#9c2a78"/>
<rect x="316.75" y="268.92" width="9.24" height="7.28" fill="#e52027"/>
<rect x="325.94" y="268.92" width="9.24" height="7.28" fill="#e52027"/>
<rect x="335.13" y="268.92" width="9.24" height="7.28" fill="#e52027"/>
<rect x="344.32" y="268.92" width="9.24" height="7.28" fill="#ca2049"/>
<rect x="353.51" y="268.92" width="9.24" height="7.28" fill="#3f55b3"/>
<rect x="362.70" y="268.92" width="9.24" height="7.28" fill="#5442ac"/>
<rect x="371.89" y="268.92" width="9.24" height="7.28" fill="#6e30a0"/>
<rect x="381.08" y="268.92" width="9.24" height="7.28" fill="#6e30a0"/>
<rect x="390.27" y="268.92" width="9.24" height="7.28" fill="#6e30a0"/>
<rect x="399.46" y="268.92" width="9.24" height="7.28" fill="#6e30a0"/>
<rect x="408.65" y="268.92" width="9.24" height="7.28" fill="#5442ac"/>
<rect x="417.84" y="268.92" width="9.24" height="7.28" fill="#6e30a0"/>
<rect x="427.03" y="268.92" width="9.24" height="7.28" fill="#5442ac"/>
<rect x="436.22" y="268.92" width="9.24" height="7.28" fill="#9c2a78"/>
<rect x="445.41" y="268.92" width="9.24" height="7.28" fill="#6e30a0"/>
<rect x="454.60" y="268.92" width="9.24" height="7.28" fill="#6e30a0"/>
<rect x="316.75" y="276.15" width="9.24" height="7.28" fill="#e52027"/>
<rect x="325.94" y="276.15" width="9.24" height="7.28" fill="#e52027"/>
<rect x="335.13" y="276.15" width="9.24" height="7.28" fill="#ca2049"/>
<rect x="344.32" y="276.15" width="9.24" height="7.28" fill="#ca2049"/>
<rect x="353.51" y="276.15" width="9.24" height="7.28" fill="#4a4cb0"/>
<rect x="362.70" y="276.15" width="9.24" height="7.28" fill="#6e30a0"/>
<rect x="371.89" y="276.15" width="9.24" height="7.28" fill="#6e30a0"/>
<rect x="381.08" y="276.15" width="9.24" height="7.28" fill="#5442ac"/>
<rect x="390.27" y="276.15" width="9.24" height="7.28" fill="#862d8e"/>
<rect x="399.46" y="276.15" width="9.24" height="7.28" fill="#9c2a78"/>
<rect x="408.65" y="276.15" width="9.24" height="7.28" fill="#6e30a0"/>
<rect x="417.84" y="276.15" width="9.24" height="7.28" fill="#5442ac"/>
<rect x="427.03" y="276.15" width="9.24" height="7.28" fill="#5442ac"/>
<rect x="436.22" y="276.15" width="9.24" height="7.28" fill="#862d8e"/>
<rect x="445.41" y="276.15" width="9.24" height="7.28" fill="#4a4cb0"/>
<rect x="454.60" y="276.15" width="9.24" height="7.28" fill="#6e30a0"/>
<rect x="316.75" y="283.38" width="9.24" height="7.28" fill="#e52027"/>
<rect x="325.94" y="283.38" width="9.24" height="7.28" fill="#e52027"/>
<rect x="335.13" y="283.38" width="9.24" height="7.28" fill="#b2265f"/>
<rect x="344.32" y="283.38" width="9.24" height="7.28" fill="#ca2049"/>
<rect x="353.51" y="283.38" width="9.24" height="7.28" fill="#4a4cb0"/>
<rect x="362.70" y="283.38" width="9.24" height="7.28" fill="#6e30a0"/>
<rect x="371.89" y="283.38" width="9.24" height="7.28" fill="#6e30a0"/>
<rect x="381.08" y="283.38" width="9.24" height="7.28" fill="#4a4cb0"/>
<rect x="390.27" y="283.38" width="9.24" height="7.28" fill="#5442ac"/>
<rect x="399.46" y="283.38" width="9.24" height="7.28" fill="#9c2a78"/>
<rect x="408.65" y="283.38" width="9.24" height="7.28" fill="#6e30a0"/>
<rect x="417.84" y="283.38" width="9.24" height="7.28" fill="#5442ac"/>
<rect x="427.03" y="283.38" width="9.24" height="7.28" fill="#5442ac"/>
<rect x="436.22" y="283.38" width="9.24" height="7.28" fill="#ca2049"/>
<rect x="445.41" y="283.38" width="9.24" height="7.28" fill="#9c2a78"/>
<rect x="454.60" y="283.38" width="9.24" height="7.28" fill="#6e30a0"/>
<rect x="316.75" y="290.61" width="9.24" height="7.28" fill="#e52027"/>
<rect x="325.94" y="290.61" width="9.24" height="7.28" fill="#e52027"/>
<rect x="335.13" y="290.61" width="9.24" height="7.28" fill="#e52027"/>
<rect x="344.32" y="290.61" width="9.24" height="7.28" fill="#ca2049"/>
<rect x="353.51" y="290.61" width="9.24" height="7.28" fill="#6e30a0"/>
<rect x="362.70" y="290.61" width="9.24" height="7.28" fill="#5442ac"/>
<rect x="371.89" y="290.61" width="9.24" height="7.28" fill="#5442ac"/>
<rect x="381.08" y="290.61" width="9.24" height="7.28" fill="#4a4cb0"/>
<rect x="390.27" y="290.61" width="9.24" height="7.28" fill="#862d8e"/>
<rect x="399.46" y="290.61" width="9.24" height="7.28" fill="#862d8e"/>
<rect x="408.65" y="290.61" width="9.24" height="7.28" fill="#5442ac"/>
<rect x="417.84" y="290.61" width="9.24" height="7.28" fill="#6e30a0"/>
<rect x="427.03" y="290.61" width="9.24" height="7.28" fill="#6e30a0"/>
<rect x="436.22" y="290.61" width="9.24" height="7.28" fill="#b2265f"/>
<rect x="445.41" y="290.61" width="9.24" height="7.28" fill="#9c2a78"/>
<rect x="454.60" y="290.61" width="9.24" height="7.28" fill="#6e30a0"/>
<rect x="316.75" y="297.84" width="9.24" height="7.28" fill="#e52027"/>
<rect x="325.94" y="297.84" width="9.24" height="7.28" fill="#e52027"/>
<rect x="335.13" y="297.84" width="9.24" height="7.28" fill="#ca2049"/>
<rect x="344.32" y="297.84" width="9.24" height="7.28" fill="#ca2049"/>
<rect x="353.51" y="297.84" width="9.24" height="7.28" fill="#5442ac"/>
<rect x="362.70" y="297.84" width="9.24" height="7.28" fill="#862d8e"/>
<rect x="371.89" y="297.84" width="9.24" height="7.28" fill="#862d8e"/>
<rect x="381.08" y="297.84" width="9.24" height="7.28" fill="#4a4cb0"/>
<rect x="390.27" y="297.84" width="9.24" height="7.28" fill="#b2265f"/>
<rect x="399.46" y="297.84" width="9.24" height="7.28" fill="#5442ac"/>
<rect x="408.65" y="297.84" width="9.24" height="7.28" fill="#4a4cb0"/>
<rect x="417.84" y="297.84" width="9.24" height="7.28" fill="#862d8e"/>
<rect x="427.03" y="297.84" width="9.24" height="7.28" fill="#5442ac"/>
<rect x="436.22" y="297.84" width="9.24" height="7.28" fill="#6e30a0"/>
<rect x="445.41" y="297.84" width="9.24" height="7.28" fill="#6e30a0"/>
<rect x="454.60" y="297.84" width="9.24" height="7.28" fill="#6e30a0"/>
<rect x="316.75" y="305.07" width="9.24" height="7.28" fill="#e52027"/>
<rect x="325.94" y="305.07" width="9.24" height="7.28" fill="#e52027"/>
<rect x="335.13" y="305.07" width="9.24" height="7.28" fill="#ca2049"/>
<rect x="344.32" y="305.07" width="9.24" height="7.28" fill="#ca2049"/>
<rect x="353.51" y="305.07" width="9.24" height="7.28" fill="#6e30a0"/>
<rect x="362.70" y="305.07" width="9.24" height="7.28" fill="#5442ac"/>
<rect x="371.89" y="305.07" width="9.24" height="7.28" fill="#4a4cb0"/>
<rect x="381.08" y="305.07" width="9.24" height="7.28" fill="#862d8e"/>
<rect x="390.27" y="305.07" width="9.24" height="7.28" fill="#6e30a0"/>
<rect x="399.46" y="305.07" width="9.24" height="7.28" fill="#6e30a0"/>
<rect x="408.65" y="305.07" width="9.24" height="7.28" fill="#6e30a0"/>
<rect x="417.84" y="305.07" width="9.24" height="7.28" fill="#6e30a0"/>
<rect x="427.03" y="305.07" width="9.24" height="7.28" fill="#b2265f"/>
<rect x="436.22" y="305.07" width="9.24" height="7.28" fill="#4a4cb0"/>
<rect x="445.41" y="305.07" width="9.24" height="7.28" fill="#862d8e"/>
<rect x="454.60" y="305.07" width="9.24" height="7.28" fill="#5442ac"/>
<rect x="316.75" y="312.30" width="9.24" height="7.28" fill="#e52027"/>
<rect x="325.94" y="312.30" width="9.24" height="7.28" fill="#e52027"/>
<rect x="335.13" y="312.30" width="9.24" height="7.28" fill="#ca2049"/>
<rect x="344.32" y="312.30" width="9.24" height="7.28" fill="#ca2049"/>
<rect x="353.51" y="312.30" width="9.24" height="7.28" fill="#4a4cb0"/>
<rect x="362.70" y="312.30" width="9.24" height="7.28" fill="#9c2a78"/>
<rect x="371.89" y="312.30" width="9.24" height="7.28" fill="#9c2a78"/>
<rect x="381.08" y="312.30" width="9.24" height="7.28" fill="#862d8e"/>
<rect x="390.27" y="312.30" width="9.24" height="7.28" fill="#862d8e"/>
<rect x="399.46" y="312.30" width="9.24" height="7.28" fill="#9c2a78"/>
<rect x="408.65" y="312.30" width="9.24" height="7.28" fill="#9c2a78"/>
<rect x="417.84" y="312.30" width="9.24" height="7.28" fill="#6e30a0"/>
<rect x="427.03" y="312.30" width="9.24" height="7.28" fill="#5442ac"/>
<rect x="436.22" y="312.30" width="9.24" height="7.28" fill="#4a4cb0"/>
<rect x="445.41" y="312.30" width="9.24" height="7.28" fill="#5442ac"/>
<rect x="454.60" y="312.30" width="9.24" height="7.28" fill="#5442ac"/>
<rect x="316.75" y="319.53" width="9.24" height="7.28" fill="#e52027"/>
<rect x="325.94" y="319.53" width="9.24" height="7.28" fill="#e52027"/>
<rect x="335.13" y="319.53" width="9.24" height="7.28" fill="#b2265f"/>
<rect x="344.32" y="319.53" width="9.24" height="7.28" fill="#ca2049"/>
<rect x="353.51" y="319.53" width="9.24" height="7.28" fill="#3f55b3"/>
<rect x="362.70" y="319.53" width="9.24" height="7.28" fill="#9c2a78"/>
<rect x="371.89" y="319.53" width="9.24" height="7.28" fill="#9c2a78"/>
<rect x="381.08" y="319.53" width="9.24" height="7.28" fill="#862d8e"/>
<rect x="390.27" y="319.53" width="9.24" height="7.28" fill="#ca2049"/>
<rect x="399.46" y="319.53" width="9.24" height="7.28" fill="#ca2049"/>
<rect x="408.65" y="319.53" width="9.24" height="7.28" fill="#9c2a78"/>
<rect x="417.84" y="319.53" width="9.24" height="7.28" fill="#6e30a0"/>
<rect x="427.03" y="319.53" width="9.24" height="7.28" fill="#6e30a0"/>
<rect x="436.22" y="319.53" width="9.24" height="7.28" fill="#3f55b3"/>
<rect x="445.41" y="319.53" width="9.24" height="7.28" fill="#5442ac"/>
<rect x="454.60" y="319.53" width="9.24" height="7.28" fill="#5442ac"/>
<rect x="316.75" y="326.76" width="9.24" height="7.28" fill="#e52027"/>
<rect x="325.94" y="326.76" width="9.24" height="7.28" fill="#e52027"/>
<rect x="335.13" y="326.76" width="9.24" height="7.28" fill="#ca2049"/>
<rect x="344.32" y="326.76" width="9.24" height="7.28" fill="#ca2049"/>
<rect x="353.51" y="326.76" width="9.24" height="7.28" fill="#4a4cb0"/>
<rect x="362.70" y="326.76" width="9.24" height="7.28" fill="#b2265f"/>
<rect x="371.89" y="326.76" width="9.24" height="7.28" fill="#9c2a78"/>
<rect x="381.08" y="326.76" width="9.24" height="7.28" fill="#6e30a0"/>
<rect x="390.27" y="326.76" width="9.24" height="7.28" fill="#5442ac"/>
<rect x="399.46" y="326.76" width="9.24" height="7.28" fill="#5442ac"/>
<rect x="408.65" y="326.76" width="9.24" height="7.28" fill="#5442ac"/>
<rect x="417.84" y="326.76" width="9.24" height="7.28" fill="#5442ac"/>
<rect x="427.03" y="326.76" width="9.24" height="7.28" fill="#5442ac"/>
<rect x="436.22" y="326.76" width="9.24" height="7.28" fill="#6e30a0"/>
<rect x="445.41" y="326.76" width="9.24" height="7.28" fill="#9c2a78"/>
<rect x="454.60" y="326.76" width="9.24" height="7.28" fill="#862d8e"/>
<rect x="316.75" y="333.99" width="9.24" height="7.28" fill="#e52027"/>
<rect x="325.94" y="333.99" width="9.24" height="7.28" fill="#ca2049"/>
<rect x="335.13" y="333.99" width="9.24" height="7.28" fill="#ca2049"/>
<rect x="344.32" y="333.99" width="9.24" height="7.28" fill="#e52027"/>
<rect x="353.51" y="333.99" width="9.24" height="7.28" fill="#6e30a0"/>
<rect x="362.70" y="333.99" width="9.24" height="7.28" fill="#b2265f"/>
<rect x="371.89" y="333.99" width="9.24" height="7.28" fill="#6e30a0"/>
<rect x="381.08" y="333.99" width="9.24" height="7.28" fill="#9c2a78"/>
<rect x="390.27" y="333.99" width="9.24" height="7.28" fill="#6e30a0"/>
<rect x="399.46" y="333.99" width="9.24" height="7.28" fill="#9c2a78"/>
<rect x="408.65" y="333.99" width="9.24" height="7.28" fill="#6e30a0"/>
<rect x="417.84" y="333.99" width="9.24" height="7.28" fill="#b2265f"/>
<rect x="427.03" y="333.99" width="9.24" height="7.28" fill="#6e30a0"/>
<rect x="436.22" y="333.99" width="9.24" height="7.28" fill="#5442ac"/>
<rect x="445.41" y="333.99" width="9.24" height="7.28" fill="#3f55b3"/>
<rect x="454.60" y="333.99" width="9.24" height="7.28" fill="#3f55b3"/>
<rect x="316.75" y="341.22" width="9.24" height="7.28" fill="#e52027"/>
<rect x="325.94" y="341.22" width="9.24" height="7.28" fill="#e52027"/>
<rect x="335.13" y="341.22" width="9.24" height="7.28" fill="#6e30a0"/>
<rect x="344.32" y="341.22" width="9.24" height="7.28" fill="#ca2049"/>
<rect x="353.51" y="341.22" width="9.24" height="7.28" fill="#862d8e"/>
<rect x="362.70" y="341.22" width="9.24" height="7.28" fill="#9c2a78"/>
<rect x="371.89" y="341.22" width="9.24" height="7.28" fill="#6e30a0"/>
<rect x="381.08" y="341.22" width="9.24" height="7.28" fill="#6e30a0"/>
<rect x="390.27" y="341.22" width="9.24" height="7.28" fill="#862d8e"/>
<rect x="399.46" y="341.22" width="9.24" height="7.28" fill="#9c2a78"/>
<rect x="408.65" y="341.22" width="9.24" height="7.28" fill="#6e30a0"/>
<rect x="417.84" y="341.22" width="9.24" height="7.28" fill="#9c2a78"/>
<rect x="427.03" y="341.22" width="9.24" height="7.28" fill="#6e30a0"/>
<rect x="436.22" y="341.22" width="9.24" height="7.28" fill="#5442ac"/>
<rect x="445.41" y="341.22" width="9.24" height="7.28" fill="#4a4cb0"/>
<rect x="454.60" y="341.22" width="9.24" height="7.28" fill="#5442ac"/>
<rect x="316.75" y="348.45" width="9.24" height="7.28" fill="#e52027"/>
<rect x="325.94" y="348.45" width="9.24" height="7.28" fill="#ca2049"/>
<rect x="335.13" y="348.45" width="9.24" height="7.28" fill="#9c2a78"/>
<rect x="344.32" y="348.45" width="9.24" height="7.28" fill="#ca2049"/>
<rect x="353.51" y="348.45" width="9.24" height="7.28" fill="#862d8e"/>
<rect x="362.70" y="348.45" width="9.24" height="7.28" fill="#9c2a78"/>
<rect x="371.89" y="348.45" width="9.24" height="7.28" fill="#9c2a78"/>
<rect x="381.08" y="348.45" width="9.24" height="7.28" fill="#6e30a0"/>
<rect x="390.27" y="348.45" width="9.24" height="7.28" fill="#6e30a0"/>
<rect x="399.46" y="348.45" width="9.24" height="7.28" fill="#5442ac"/>
<rect x="408.65" y="348.45" width="9.24" height="7.28" fill="#5442ac"/>
<rect x="417.84" y="348.45" width="9.24" height="7.28" fill="#b2265f"/>
<rect x="427.03" y="348.45" width="9.24" height="7.28" fill="#6e30a0"/>
<rect x="436.22" y="348.45" width="9.24" height="7.28" fill="#5442ac"/>
<rect x="445.41" y="348.45" width="9.24" height="7.28" fill="#4a4cb0"/>
<rect x="454.60" y="348.45" width="9.24" height="7.28" fill="#5442ac"/>
<line x1="316.75" y1="95.40" x2="464.29" y2="95.40" stroke="rgba(0,0,10,0.5)" stroke-width="1.2"/>
<line x1="316.75" y1="102.63" x2="464.29" y2="102.63" stroke="rgba(0,0,10,0.5)" stroke-width="1.2"/>
<line x1="316.75" y1="109.86" x2="464.29" y2="109.86" stroke="rgba(0,0,10,0.5)" stroke-width="1.2"/>
<line x1="316.75" y1="117.09" x2="464.29" y2="117.09" stroke="rgba(0,0,10,0.5)" stroke-width="1.2"/>
<line x1="316.75" y1="124.32" x2="464.29" y2="124.32" stroke="rgba(0,0,10,0.5)" stroke-width="1.2"/>
<line x1="316.75" y1="131.55" x2="464.29" y2="131.55" stroke="rgba(0,0,10,0.5)" stroke-width="1.2"/>
<line x1="316.75" y1="138.78" x2="464.29" y2="138.78" stroke="rgba(0,0,10,0.5)" stroke-width="1.2"/>
<line x1="316.75" y1="146.01" x2="464.29" y2="146.01" stroke="rgba(0,0,10,0.5)" stroke-width="1.2"/>
<line x1="316.75" y1="153.24" x2="464.29" y2="153.24" stroke="rgba(0,0,10,0.5)" stroke-width="1.2"/>
<line x1="316.75" y1="160.47" x2="464.29" y2="160.47" stroke="rgba(0,0,10,0.5)" stroke-width="1.2"/>
<line x1="316.75" y1="167.70" x2="464.29" y2="167.70" stroke="rgba(0,0,10,0.5)" stroke-width="1.2"/>
<line x1="316.75" y1="174.93" x2="464.29" y2="174.93" stroke="rgba(0,0,10,0.5)" stroke-width="1.2"/>
<line x1="316.75" y1="182.16" x2="464.29" y2="182.16" stroke="rgba(0,0,10,0.5)" stroke-width="1.2"/>
<line x1="316.75" y1="189.39" x2="464.29" y2="189.39" stroke="rgba(0,0,10,0.5)" stroke-width="1.2"/>
<line x1="316.75" y1="196.62" x2="464.29" y2="196.62" stroke="rgba(0,0,10,0.5)" stroke-width="1.2"/>
<line x1="316.75" y1="203.85" x2="464.29" y2="203.85" stroke="rgba(0,0,10,0.5)" stroke-width="1.2"/>
<line x1="316.75" y1="211.08" x2="464.29" y2="211.08" stroke="rgba(0,0,10,0.5)" stroke-width="1.2"/>
<line x1="316.75" y1="218.31" x2="464.29" y2="218.31" stroke="rgba(0,0,10,0.5)" stroke-width="1.2"/>
<line x1="316.75" y1="225.54" x2="464.29" y2="225.54" stroke="rgba(0,0,10,0.5)" stroke-width="1.2"/>
<line x1="316.75" y1="232.77" x2="464.29" y2="232.77" stroke="rgba(0,0,10,0.5)" stroke-width="1.2"/>
<line x1="316.75" y1="240.00" x2="464.29" y2="240.00" stroke="rgba(0,0,10,0.5)" stroke-width="1.2"/>
<line x1="316.75" y1="247.23" x2="464.29" y2="247.23" stroke="rgba(0,0,10,0.5)" stroke-width="1.2"/>
<line x1="316.75" y1="254.46" x2="464.29" y2="254.46" stroke="rgba(0,0,10,0.5)" stroke-width="1.2"/>
<line x1="316.75" y1="261.69" x2="464.29" y2="261.69" stroke="rgba(0,0,10,0.5)" stroke-width="1.2"/>
<line x1="316.75" y1="268.92" x2="464.29" y2="268.92" stroke="rgba(0,0,10,0.5)" stroke-width="1.2"/>
<line x1="316.75" y1="276.15" x2="464.29" y2="276.15" stroke="rgba(0,0,10,0.5)" stroke-width="1.2"/>
<line x1="316.75" y1="283.38" x2="464.29" y2="283.38" stroke="rgba(0,0,10,0.5)" stroke-width="1.2"/>
<line x1="316.75" y1="290.61" x2="464.29" y2="290.61" stroke="rgba(0,0,10,0.5)" stroke-width="1.2"/>
<line x1="316.75" y1="297.84" x2="464.29" y2="297.84" stroke="rgba(0,0,10,0.5)" stroke-width="1.2"/>
<line x1="316.75" y1="305.07" x2="464.29" y2="305.07" stroke="rgba(0,0,10,0.5)" stroke-width="1.2"/>
<line x1="316.75" y1="312.30" x2="464.29" y2="312.30" stroke="rgba(0,0,10,0.5)" stroke-width="1.2"/>
<line x1="316.75" y1="319.53" x2="464.29" y2="319.53" stroke="rgba(0,0,10,0.5)" stroke-width="1.2"/>
<line x1="316.75" y1="326.76" x2="464.29" y2="326.76" stroke="rgba(0,0,10,0.5)" stroke-width="1.2"/>
<line x1="316.75" y1="333.99" x2="464.29" y2="333.99" stroke="rgba(0,0,10,0.5)" stroke-width="1.2"/>
<line x1="316.75" y1="341.22" x2="464.29" y2="341.22" stroke="rgba(0,0,10,0.5)" stroke-width="1.2"/>
<line x1="316.75" y1="348.45" x2="464.29" y2="348.45" stroke="rgba(0,0,10,0.5)" stroke-width="1.2"/>
<line x1="316.75" y1="355.68" x2="464.29" y2="355.68" stroke="rgba(0,0,10,0.5)" stroke-width="1.2"/>
<line x1="325.94" y1="94.80" x2="325.94" y2="356.28" stroke="rgba(0,0,10,0.5)" stroke-width="1.2"/>
<line x1="335.13" y1="94.80" x2="335.13" y2="356.28" stroke="rgba(0,0,10,0.5)" stroke-width="1.2"/>
<line x1="344.32" y1="94.80" x2="344.32" y2="356.28" stroke="rgba(0,0,10,0.5)" stroke-width="1.2"/>
<line x1="353.51" y1="94.80" x2="353.51" y2="356.28" stroke="rgba(0,0,10,0.5)" stroke-width="1.2"/>
<line x1="362.70" y1="94.80" x2="362.70" y2="356.28" stroke="rgba(0,0,10,0.5)" stroke-width="1.2"/>
<line x1="371.89" y1="94.80" x2="371.89" y2="356.28" stroke="rgba(0,0,10,0.5)" stroke-width="1.2"/>
<line x1="381.08" y1="94.80" x2="381.08" y2="356.28" stroke="rgba(0,0,10,0.5)" stroke-width="1.2"/>
<line x1="390.27" y1="94.80" x2="390.27" y2="356.28" stroke="rgba(0,0,10,0.5)" stroke-width="1.2"/>
<line x1="399.46" y1="94.80" x2="399.46" y2="356.28" stroke="rgba(0,0,10,0.5)" stroke-width="1.2"/>
<line x1="408.65" y1="94.80" x2="408.65" y2="356.28" stroke="rgba(0,0,10,0.5)" stroke-width="1.2"/>
<line x1="417.84" y1="94.80" x2="417.84" y2="356.28" stroke="rgba(0,0,10,0.5)" stroke-width="1.2"/>
<line x1="427.03" y1="94.80" x2="427.03" y2="356.28" stroke="rgba(0,0,10,0.5)" stroke-width="1.2"/>
<line x1="436.22" y1="94.80" x2="436.22" y2="356.28" stroke="rgba(0,0,10,0.5)" stroke-width="1.2"/>
<line x1="445.41" y1="94.80" x2="445.41" y2="356.28" stroke="rgba(0,0,10,0.5)" stroke-width="1.2"/>
<line x1="454.60" y1="94.80" x2="454.60" y2="356.28" stroke="rgba(0,0,10,0.5)" stroke-width="1.2"/>
<line x1="463.79" y1="94.80" x2="463.79" y2="356.28" stroke="rgba(0,0,10,0.5)" stroke-width="1.2"/>
<text x="263.40" y="100.35" font-size="6.2" fill="#2a2a2a" text-anchor="start" stroke="#2a2a2a" stroke-width="0.15">GYPE</text>
<text x="263.40" y="107.64" font-size="6.2" fill="#2a2a2a" text-anchor="start" stroke="#2a2a2a" stroke-width="0.15">CLC</text>
<text x="263.40" y="114.93" font-size="6.2" fill="#2a2a2a" text-anchor="start" stroke="#2a2a2a" stroke-width="0.15">TCN1</text>
<text x="263.40" y="122.22" font-size="6.2" fill="#2a2a2a" text-anchor="start" stroke="#2a2a2a" stroke-width="0.15">TRAJ35</text>
<text x="263.40" y="129.51" font-size="6.2" fill="#2a2a2a" text-anchor="start" stroke="#2a2a2a" stroke-width="0.15">CCNA1</text>
<text x="263.40" y="136.80" font-size="6.2" fill="#2a2a2a" text-anchor="start" stroke="#2a2a2a" stroke-width="0.15">RAB27B</text>
<text x="263.40" y="144.09" font-size="6.2" fill="#2a2a2a" text-anchor="start" stroke="#2a2a2a" stroke-width="0.15">RP 11-839G9</text>
<text x="263.40" y="151.38" font-size="6.2" fill="#2a2a2a" text-anchor="start" stroke="#2a2a2a" stroke-width="0.15">ENPP3</text>
<text x="263.40" y="158.67" font-size="6.2" fill="#2a2a2a" text-anchor="start" stroke="#2a2a2a" stroke-width="0.15">LINC01160</text>
<text x="263.40" y="165.96" font-size="6.2" fill="#2a2a2a" text-anchor="start" stroke="#2a2a2a" stroke-width="0.15">SEPT10</text>
<text x="263.40" y="173.25" font-size="6.2" fill="#2a2a2a" text-anchor="start" stroke="#2a2a2a" stroke-width="0.15">ADRA2A</text>
<text x="263.40" y="180.54" font-size="6.2" fill="#2a2a2a" text-anchor="start" stroke="#2a2a2a" stroke-width="0.15">NTS</text>
<text x="263.40" y="187.83" font-size="6.2" fill="#2a2a2a" text-anchor="start" stroke="#2a2a2a" stroke-width="0.15">IL7R</text>
<text x="263.40" y="195.12" font-size="6.2" fill="#2a2a2a" text-anchor="start" stroke="#2a2a2a" stroke-width="0.15">OSBPL6</text>
<text x="263.40" y="202.41" font-size="6.2" fill="#2a2a2a" text-anchor="start" stroke="#2a2a2a" stroke-width="0.15">SH2D2A</text>
<text x="263.40" y="209.70" font-size="6.2" fill="#2a2a2a" text-anchor="start" stroke="#2a2a2a" stroke-width="0.15">NT5E</text>
<text x="263.40" y="216.99" font-size="6.2" fill="#2a2a2a" text-anchor="start" stroke="#2a2a2a" stroke-width="0.15">PROS1</text>
<text x="263.40" y="224.28" font-size="6.2" fill="#2a2a2a" text-anchor="start" stroke="#2a2a2a" stroke-width="0.15">CCL1</text>
<text x="263.40" y="231.57" font-size="6.2" fill="#2a2a2a" text-anchor="start" stroke="#2a2a2a" stroke-width="0.15">IL1RL1</text>
<text x="263.40" y="238.86" font-size="6.2" fill="#2a2a2a" text-anchor="start" stroke="#2a2a2a" stroke-width="0.15">RP11-221N1</text>
<text x="263.40" y="246.15" font-size="6.2" fill="#2a2a2a" text-anchor="start" stroke="#2a2a2a" stroke-width="0.15">SPP1</text>
<text x="263.40" y="253.44" font-size="6.2" fill="#2a2a2a" text-anchor="start" stroke="#2a2a2a" stroke-width="0.15">CELA2B</text>
<text x="263.40" y="260.73" font-size="6.2" fill="#2a2a2a" text-anchor="start" stroke="#2a2a2a" stroke-width="0.15">C5AR1</text>
<text x="263.40" y="268.02" font-size="6.2" fill="#2a2a2a" text-anchor="start" stroke="#2a2a2a" stroke-width="0.15">C3AR1</text>
<text x="263.40" y="275.31" font-size="6.2" fill="#2a2a2a" text-anchor="start" stroke="#2a2a2a" stroke-width="0.15">YME1L1</text>
<text x="263.40" y="282.60" font-size="6.2" fill="#2a2a2a" text-anchor="start" stroke="#2a2a2a" stroke-width="0.15">LPAR5</text>
<text x="263.40" y="289.89" font-size="6.2" fill="#2a2a2a" text-anchor="start" stroke="#2a2a2a" stroke-width="0.15">HPSE</text>
<text x="263.40" y="297.18" font-size="6.2" fill="#2a2a2a" text-anchor="start" stroke="#2a2a2a" stroke-width="0.15">PPAP2A</text>
<text x="263.40" y="304.47" font-size="6.2" fill="#2a2a2a" text-anchor="start" stroke="#2a2a2a" stroke-width="0.15">MMP14</text>
<text x="263.40" y="311.76" font-size="6.2" fill="#2a2a2a" text-anchor="start" stroke="#2a2a2a" stroke-width="0.15">C5AR2</text>
<text x="263.40" y="319.05" font-size="6.2" fill="#2a2a2a" text-anchor="start" stroke="#2a2a2a" stroke-width="0.15">TIMP3</text>
<text x="263.40" y="326.34" font-size="6.2" fill="#2a2a2a" text-anchor="start" stroke="#2a2a2a" stroke-width="0.15">MICAL2</text>
<text x="263.40" y="333.63" font-size="6.2" fill="#2a2a2a" text-anchor="start" stroke="#2a2a2a" stroke-width="0.15">GCSAML</text>
<text x="263.40" y="340.92" font-size="6.2" fill="#2a2a2a" text-anchor="start" stroke="#2a2a2a" stroke-width="0.15">PTGS2</text>
<text x="263.40" y="348.21" font-size="6.2" fill="#2a2a2a" text-anchor="start" stroke="#2a2a2a" stroke-width="0.15">F2RL2</text>
<text x="263.40" y="355.50" font-size="6.2" fill="#2a2a2a" text-anchor="start" stroke="#2a2a2a" stroke-width="0.15">THBS1</text>
<defs><linearGradient id="cs" x1="0" x2="1" y1="0" y2="0"><stop offset="0" stop-color="#3a4aa8"/><stop offset="0.3" stop-color="#4048a6"/><stop offset="0.45" stop-color="#5c3a9c"/><stop offset="0.52" stop-color="#722e8c"/><stop offset="0.6" stop-color="#9a2870"/><stop offset="0.7" stop-color="#c42248"/><stop offset="0.8" stop-color="#e02232"/><stop offset="1" stop-color="#ee1f26"/></linearGradient></defs>
<rect x="316.40" y="361.60" width="146.80" height="7.60" fill="url(#cs)" stroke="rgba(40,0,30,0.5)" stroke-width="0.6"/>
<text x="314.00" y="377.60" font-size="7.1" fill="#222" text-anchor="start" stroke="#222" stroke-width="0.15">&#8722;2.79</text>
<text x="389.80" y="377.60" font-size="7.1" fill="#222" text-anchor="middle" stroke="#222" stroke-width="0.15">0</text>
<text x="464.80" y="377.60" font-size="7.1" fill="#222" text-anchor="end" stroke="#222" stroke-width="0.15">2.79</text>
<line x1="475.00" y1="105.36" x2="488.00" y2="105.36" stroke="#a8a8a8" stroke-width="0.85"/>
<line x1="475.00" y1="112.63" x2="488.00" y2="112.63" stroke="#a8d898" stroke-width="0.85"/>
<line x1="487.60" y1="105.36" x2="487.60" y2="109.00" stroke="#a8a8a8" stroke-width="0.85"/>
<line x1="487.60" y1="109.00" x2="487.60" y2="112.63" stroke="#a8d898" stroke-width="0.85"/>
<line x1="487.60" y1="109.00" x2="491.70" y2="109.00" stroke="#a8b8a0" stroke-width="0.85"/>
<line x1="475.00" y1="119.89" x2="491.70" y2="119.89" stroke="#7878c8" stroke-width="0.85"/>
<line x1="491.30" y1="109.00" x2="491.30" y2="114.45" stroke="#a8b8a0" stroke-width="0.85"/>
<line x1="491.30" y1="114.45" x2="491.30" y2="119.89" stroke="#7878c8" stroke-width="0.85"/>
<line x1="475.00" y1="127.16" x2="483.60" y2="127.16" stroke="#90c8e8" stroke-width="0.85"/>
<line x1="475.00" y1="134.42" x2="483.60" y2="134.42" stroke="#90c8e8" stroke-width="0.85"/>
<line x1="483.20" y1="127.16" x2="483.20" y2="130.79" stroke="#90c8e8" stroke-width="0.85"/>
<line x1="483.20" y1="130.79" x2="483.20" y2="134.42" stroke="#90c8e8" stroke-width="0.85"/>
<line x1="483.20" y1="130.79" x2="486.80" y2="130.79" stroke="#90c8e8" stroke-width="0.85"/>
<line x1="475.00" y1="141.69" x2="486.80" y2="141.69" stroke="#90c8e8" stroke-width="0.85"/>
<line x1="486.40" y1="130.79" x2="486.40" y2="136.24" stroke="#90c8e8" stroke-width="0.85"/>
<line x1="486.40" y1="136.24" x2="486.40" y2="141.69" stroke="#90c8e8" stroke-width="0.85"/>
<line x1="486.40" y1="136.24" x2="489.90" y2="136.24" stroke="#90c8e8" stroke-width="0.85"/>
<line x1="475.00" y1="148.95" x2="489.90" y2="148.95" stroke="#b08868" stroke-width="0.85"/>
<line x1="489.50" y1="136.24" x2="489.50" y2="142.60" stroke="#90c8e8" stroke-width="0.85"/>
<line x1="489.50" y1="142.60" x2="489.50" y2="148.95" stroke="#b08868" stroke-width="0.85"/>
<line x1="475.00" y1="156.22" x2="491.10" y2="156.22" stroke="#70a070" stroke-width="0.85"/>
<line x1="475.00" y1="163.48" x2="491.10" y2="163.48" stroke="#b888c8" stroke-width="0.85"/>
<line x1="490.70" y1="156.22" x2="490.70" y2="159.85" stroke="#70a070" stroke-width="0.85"/>
<line x1="490.70" y1="159.85" x2="490.70" y2="163.48" stroke="#b888c8" stroke-width="0.85"/>
<line x1="475.00" y1="192.54" x2="483.20" y2="192.54" stroke="#b8dc98" stroke-width="0.85"/>
<line x1="475.00" y1="199.81" x2="483.20" y2="199.81" stroke="#b8dc98" stroke-width="0.85"/>
<line x1="482.80" y1="192.54" x2="482.80" y2="196.18" stroke="#b8dc98" stroke-width="0.85"/>
<line x1="482.80" y1="196.18" x2="482.80" y2="199.81" stroke="#b8dc98" stroke-width="0.85"/>
<line x1="475.00" y1="185.28" x2="484.90" y2="185.28" stroke="#b8dc98" stroke-width="0.85"/>
<line x1="482.80" y1="196.18" x2="484.90" y2="196.18" stroke="#b8dc98" stroke-width="0.85"/>
<line x1="484.50" y1="185.28" x2="484.50" y2="190.73" stroke="#b8dc98" stroke-width="0.85"/>
<line x1="484.50" y1="190.73" x2="484.50" y2="196.18" stroke="#b8dc98" stroke-width="0.85"/>
<line x1="475.00" y1="178.01" x2="486.70" y2="178.01" stroke="#b8dc98" stroke-width="0.85"/>
<line x1="484.50" y1="190.73" x2="486.70" y2="190.73" stroke="#b8dc98" stroke-width="0.85"/>
<line x1="486.30" y1="178.01" x2="486.30" y2="184.37" stroke="#b8dc98" stroke-width="0.85"/>
<line x1="486.30" y1="184.37" x2="486.30" y2="190.73" stroke="#b8dc98" stroke-width="0.85"/>
<line x1="475.00" y1="207.07" x2="483.20" y2="207.07" stroke="#b8dc98" stroke-width="0.85"/>
<line x1="475.00" y1="214.34" x2="483.20" y2="214.34" stroke="#b8dc98" stroke-width="0.85"/>
<line x1="482.80" y1="207.07" x2="482.80" y2="210.71" stroke="#b8dc98" stroke-width="0.85"/>
<line x1="482.80" y1="210.71" x2="482.80" y2="214.34" stroke="#b8dc98" stroke-width="0.85"/>
<line x1="475.00" y1="228.87" x2="485.50" y2="228.87" stroke="#b8dc98" stroke-width="0.85"/>
<line x1="475.00" y1="236.13" x2="485.50" y2="236.13" stroke="#b8dc98" stroke-width="0.85"/>
<line x1="485.10" y1="228.87" x2="485.10" y2="232.50" stroke="#b8dc98" stroke-width="0.85"/>
<line x1="485.10" y1="232.50" x2="485.10" y2="236.13" stroke="#b8dc98" stroke-width="0.85"/>
<line x1="475.00" y1="221.60" x2="486.40" y2="221.60" stroke="#b8dc98" stroke-width="0.85"/>
<line x1="485.10" y1="232.50" x2="486.40" y2="232.50" stroke="#b8dc98" stroke-width="0.85"/>
<line x1="486.00" y1="221.60" x2="486.00" y2="227.05" stroke="#b8dc98" stroke-width="0.85"/>
<line x1="486.00" y1="227.05" x2="486.00" y2="232.50" stroke="#b8dc98" stroke-width="0.85"/>
<line x1="482.80" y1="210.71" x2="487.40" y2="210.71" stroke="#b8dc98" stroke-width="0.85"/>
<line x1="486.00" y1="227.05" x2="487.40" y2="227.05" stroke="#b8dc98" stroke-width="0.85"/>
<line x1="487.00" y1="210.71" x2="487.00" y2="218.88" stroke="#b8dc98" stroke-width="0.85"/>
<line x1="487.00" y1="218.88" x2="487.00" y2="227.05" stroke="#b8dc98" stroke-width="0.85"/>
<line x1="486.30" y1="184.37" x2="488.40" y2="184.37" stroke="#b8dc98" stroke-width="0.85"/>
<line x1="487.00" y1="218.88" x2="488.40" y2="218.88" stroke="#c0dca8" stroke-width="0.85"/>
<line x1="488.00" y1="184.37" x2="488.00" y2="201.63" stroke="#b8dc98" stroke-width="0.85"/>
<line x1="488.00" y1="201.63" x2="488.00" y2="218.88" stroke="#c0dca8" stroke-width="0.85"/>
<line x1="475.00" y1="250.66" x2="481.10" y2="250.66" stroke="#6a8a6a" stroke-width="0.85"/>
<line x1="475.00" y1="257.93" x2="481.10" y2="257.93" stroke="#6a8a6a" stroke-width="0.85"/>
<line x1="480.70" y1="250.66" x2="480.70" y2="254.30" stroke="#6a8a6a" stroke-width="0.85"/>
<line x1="480.70" y1="254.30" x2="480.70" y2="257.93" stroke="#6a8a6a" stroke-width="0.85"/>
<line x1="480.70" y1="254.30" x2="484.50" y2="254.30" stroke="#7a9a7a" stroke-width="0.85"/>
<line x1="475.00" y1="265.19" x2="484.50" y2="265.19" stroke="#6a8a6a" stroke-width="0.85"/>
<line x1="484.10" y1="254.30" x2="484.10" y2="259.75" stroke="#7a9a7a" stroke-width="0.85"/>
<line x1="484.10" y1="259.75" x2="484.10" y2="265.19" stroke="#6a8a6a" stroke-width="0.85"/>
<line x1="475.00" y1="272.46" x2="483.00" y2="272.46" stroke="#6a8a6a" stroke-width="0.85"/>
<line x1="475.00" y1="279.73" x2="483.00" y2="279.73" stroke="#6a8a6a" stroke-width="0.85"/>
<line x1="482.60" y1="272.46" x2="482.60" y2="276.09" stroke="#6a8a6a" stroke-width="0.85"/>
<line x1="482.60" y1="276.09" x2="482.60" y2="279.73" stroke="#6a8a6a" stroke-width="0.85"/>
<line x1="482.60" y1="276.09" x2="485.50" y2="276.09" stroke="#7a9a7a" stroke-width="0.85"/>
<line x1="475.00" y1="286.99" x2="485.50" y2="286.99" stroke="#6a8a6a" stroke-width="0.85"/>
<line x1="485.10" y1="276.09" x2="485.10" y2="281.54" stroke="#7a9a7a" stroke-width="0.85"/>
<line x1="485.10" y1="281.54" x2="485.10" y2="286.99" stroke="#6a8a6a" stroke-width="0.85"/>
<line x1="484.10" y1="259.75" x2="486.90" y2="259.75" stroke="#7a9a7a" stroke-width="0.85"/>
<line x1="485.10" y1="281.54" x2="486.90" y2="281.54" stroke="#7a9a7a" stroke-width="0.85"/>
<line x1="486.50" y1="259.75" x2="486.50" y2="270.64" stroke="#7a9a7a" stroke-width="0.85"/>
<line x1="486.50" y1="270.64" x2="486.50" y2="281.54" stroke="#7a9a7a" stroke-width="0.85"/>
<line x1="475.00" y1="294.25" x2="486.60" y2="294.25" stroke="#6a8a6a" stroke-width="0.85"/>
<line x1="475.00" y1="301.52" x2="486.60" y2="301.52" stroke="#6a8a6a" stroke-width="0.85"/>
<line x1="486.20" y1="294.25" x2="486.20" y2="297.89" stroke="#6a8a6a" stroke-width="0.85"/>
<line x1="486.20" y1="297.89" x2="486.20" y2="301.52" stroke="#6a8a6a" stroke-width="0.85"/>
<line x1="486.50" y1="270.64" x2="487.70" y2="270.64" stroke="#7a9a7a" stroke-width="0.85"/>
<line x1="486.20" y1="297.89" x2="487.70" y2="297.89" stroke="#8aa08a" stroke-width="0.85"/>
<line x1="487.30" y1="270.64" x2="487.30" y2="284.27" stroke="#7a9a7a" stroke-width="0.85"/>
<line x1="487.30" y1="284.27" x2="487.30" y2="297.89" stroke="#8aa08a" stroke-width="0.85"/>
<line x1="475.00" y1="243.40" x2="488.40" y2="243.40" stroke="#6a8a6a" stroke-width="0.85"/>
<line x1="487.30" y1="284.27" x2="488.40" y2="284.27" stroke="#7a9a7a" stroke-width="0.85"/>
<line x1="488.00" y1="243.40" x2="488.00" y2="263.83" stroke="#6a8a6a" stroke-width="0.85"/>
<line x1="488.00" y1="263.83" x2="488.00" y2="284.27" stroke="#7a9a7a" stroke-width="0.85"/>
<line x1="488.00" y1="263.83" x2="489.50" y2="263.83" stroke="#80b088" stroke-width="0.85"/>
<line x1="475.00" y1="308.78" x2="489.50" y2="308.78" stroke="#88d8e0" stroke-width="0.85"/>
<line x1="489.10" y1="263.83" x2="489.10" y2="286.31" stroke="#80b088" stroke-width="0.85"/>
<line x1="489.10" y1="286.31" x2="489.10" y2="308.78" stroke="#88d8e0" stroke-width="0.85"/>
<line x1="488.00" y1="201.63" x2="490.20" y2="201.63" stroke="#c8dcb0" stroke-width="0.85"/>
<line x1="489.10" y1="286.31" x2="490.20" y2="286.31" stroke="#98d8e0" stroke-width="0.85"/>
<line x1="489.80" y1="201.63" x2="489.80" y2="272.00" stroke="#c8dcb0" stroke-width="0.85"/>
<line x1="489.80" y1="272.00" x2="489.80" y2="286.31" stroke="#98d8e0" stroke-width="0.85"/>
<line x1="475.00" y1="170.75" x2="491.30" y2="170.75" stroke="#f0b888" stroke-width="0.85"/>
<line x1="489.80" y1="272.00" x2="491.30" y2="272.00" stroke="#c8e0c0" stroke-width="0.85"/>
<line x1="490.90" y1="170.75" x2="490.90" y2="221.38" stroke="#f0b888" stroke-width="0.85"/>
<line x1="490.90" y1="221.38" x2="490.90" y2="272.00" stroke="#c8e0c0" stroke-width="0.85"/>
<line x1="475.00" y1="316.05" x2="481.40" y2="316.05" stroke="#6a9a98" stroke-width="0.85"/>
<line x1="475.00" y1="323.31" x2="481.40" y2="323.31" stroke="#6a9a98" stroke-width="0.85"/>
<line x1="481.00" y1="316.05" x2="481.00" y2="319.68" stroke="#6a9a98" stroke-width="0.85"/>
<line x1="481.00" y1="319.68" x2="481.00" y2="323.31" stroke="#6a9a98" stroke-width="0.85"/>
<line x1="481.00" y1="319.68" x2="488.70" y2="319.68" stroke="#6a9a98" stroke-width="0.85"/>
<line x1="475.00" y1="330.58" x2="488.70" y2="330.58" stroke="#d888c8" stroke-width="0.85"/>
<line x1="488.30" y1="319.68" x2="488.30" y2="325.13" stroke="#6a9a98" stroke-width="0.85"/>
<line x1="488.30" y1="325.13" x2="488.30" y2="330.58" stroke="#d888c8" stroke-width="0.85"/>
<line x1="475.00" y1="345.11" x2="485.10" y2="345.11" stroke="#c080c8" stroke-width="0.85"/>
<line x1="475.00" y1="352.38" x2="485.10" y2="352.38" stroke="#c080c8" stroke-width="0.85"/>
<line x1="484.70" y1="345.11" x2="484.70" y2="348.74" stroke="#c080c8" stroke-width="0.85"/>
<line x1="484.70" y1="348.74" x2="484.70" y2="352.38" stroke="#c080c8" stroke-width="0.85"/>
<line x1="475.00" y1="337.84" x2="486.00" y2="337.84" stroke="#c080c8" stroke-width="0.85"/>
<line x1="484.70" y1="348.74" x2="486.00" y2="348.74" stroke="#c080c8" stroke-width="0.85"/>
<line x1="485.60" y1="337.84" x2="485.60" y2="343.29" stroke="#c080c8" stroke-width="0.85"/>
<line x1="485.60" y1="343.29" x2="485.60" y2="348.74" stroke="#c080c8" stroke-width="0.85"/>
<line x1="488.30" y1="325.13" x2="490.00" y2="325.13" stroke="#c8a0c8" stroke-width="0.85"/>
<line x1="485.60" y1="343.29" x2="490.00" y2="343.29" stroke="#c080c8" stroke-width="0.85"/>
<line x1="489.60" y1="325.13" x2="489.60" y2="334.21" stroke="#c8a0c8" stroke-width="0.85"/>
<line x1="489.60" y1="334.21" x2="489.60" y2="343.29" stroke="#c080c8" stroke-width="0.85"/>
<line x1="490.90" y1="221.38" x2="490.90" y2="221.38" stroke="#f0d0b0" stroke-width="0.85"/>
<line x1="489.60" y1="334.21" x2="490.90" y2="334.21" stroke="#c890c8" stroke-width="0.85"/>
<line x1="490.50" y1="221.38" x2="490.50" y2="277.79" stroke="#f0d0b0" stroke-width="0.85"/>
<line x1="490.50" y1="277.79" x2="490.50" y2="334.21" stroke="#c890c8" stroke-width="0.85"/>
<line x1="490.70" y1="159.85" x2="493.00" y2="159.85" stroke="#888888" stroke-width="0.85"/>
<line x1="490.50" y1="277.79" x2="493.00" y2="277.79" stroke="#d0b8d0" stroke-width="0.85"/>
<line x1="492.60" y1="159.85" x2="492.60" y2="218.82" stroke="#888888" stroke-width="0.85"/>
<line x1="492.60" y1="218.82" x2="492.60" y2="277.79" stroke="#d0b8d0" stroke-width="0.85"/>
<line x1="489.50" y1="142.60" x2="492.80" y2="142.60" stroke="#a0a0a0" stroke-width="0.85"/>
<line x1="492.60" y1="218.82" x2="492.80" y2="218.82" stroke="#c0b0c8" stroke-width="0.85"/>
<line x1="492.40" y1="142.60" x2="492.40" y2="180.71" stroke="#a0a0a0" stroke-width="0.85"/>
<line x1="492.40" y1="180.71" x2="492.40" y2="218.82" stroke="#c0b0c8" stroke-width="0.85"/>
<line x1="491.30" y1="114.45" x2="495.50" y2="114.45" stroke="#8888c8" stroke-width="0.85"/>
<line x1="492.40" y1="180.71" x2="495.50" y2="180.71" stroke="#707070" stroke-width="0.85"/>
<line x1="495.10" y1="114.45" x2="495.10" y2="147.58" stroke="#8888c8" stroke-width="0.85"/>
<line x1="495.10" y1="147.58" x2="495.10" y2="180.71" stroke="#707070" stroke-width="0.85"/>
<line x1="475.00" y1="98.10" x2="512.40" y2="98.10" stroke="#e08080" stroke-width="0.85"/>
<line x1="495.10" y1="147.58" x2="512.40" y2="147.58" stroke="#98a0bc" stroke-width="0.85"/>
<line x1="512.00" y1="98.10" x2="512.00" y2="122.84" stroke="#dcc4cc" stroke-width="0.85"/>
<line x1="512.00" y1="122.84" x2="512.00" y2="147.58" stroke="#dcc4cc" stroke-width="0.85"/>
<line x1="26.30" y1="178.60" x2="117.00" y2="178.60" stroke="#333" stroke-width="1.15"/>
<path d="M117.8,178.6 l-3.2,-1.6 l0,3.2 z" fill="#333"/>
<line x1="26.30" y1="178.60" x2="26.30" y2="176.40" stroke="#333" stroke-width="0.9"/>
<line x1="40.80" y1="178.60" x2="40.80" y2="176.40" stroke="#333" stroke-width="0.9"/>
<text x="40.80" y="175.00" font-size="6.5" fill="#222" text-anchor="middle" stroke="#222" stroke-width="0.15">2</text>
<line x1="55.30" y1="178.60" x2="55.30" y2="176.40" stroke="#333" stroke-width="0.9"/>
<text x="55.30" y="175.00" font-size="6.5" fill="#222" text-anchor="middle" stroke="#222" stroke-width="0.15">4</text>
<line x1="69.80" y1="178.60" x2="69.80" y2="176.40" stroke="#333" stroke-width="0.9"/>
<text x="69.80" y="175.00" font-size="6.5" fill="#222" text-anchor="middle" stroke="#222" stroke-width="0.15">6</text>
<line x1="84.30" y1="178.60" x2="84.30" y2="176.40" stroke="#333" stroke-width="0.9"/>
<text x="84.30" y="175.00" font-size="6.5" fill="#222" text-anchor="middle" stroke="#222" stroke-width="0.15">8</text>
<line x1="98.80" y1="178.60" x2="98.80" y2="176.40" stroke="#333" stroke-width="0.9"/>
<text x="98.80" y="175.00" font-size="6.5" fill="#222" text-anchor="middle" stroke="#222" stroke-width="0.15">10</text>
<text x="120.00" y="178.90" font-size="7.3" fill="#333" text-anchor="start" stroke="#333" stroke-width="0.15">-log(pValue)</text>
<line x1="27.20" y1="185.00" x2="112.80" y2="185.00" stroke="#f79a2a" stroke-width="1.6"/>
<line x1="27.20" y1="187.80" x2="112.80" y2="187.80" stroke="#2b6ca3" stroke-width="1.6"/>
<line x1="27.20" y1="190.60" x2="112.80" y2="190.60" stroke="#c8102e" stroke-width="1.6"/>
<line x1="27.20" y1="200.50" x2="111.60" y2="200.50" stroke="#f79a2a" stroke-width="1.6"/>
<line x1="27.20" y1="203.30" x2="111.60" y2="203.30" stroke="#2b6ca3" stroke-width="1.6"/>
<line x1="27.20" y1="206.10" x2="111.60" y2="206.10" stroke="#c8102e" stroke-width="1.6"/>
<line x1="27.20" y1="216.10" x2="108.20" y2="216.10" stroke="#f79a2a" stroke-width="1.6"/>
<line x1="27.20" y1="218.90" x2="108.20" y2="218.90" stroke="#2b6ca3" stroke-width="1.6"/>
<line x1="27.20" y1="221.70" x2="108.20" y2="221.70" stroke="#c8102e" stroke-width="1.6"/>
<line x1="27.20" y1="231.70" x2="107.50" y2="231.70" stroke="#f79a2a" stroke-width="1.6"/>
<line x1="27.20" y1="234.50" x2="107.50" y2="234.50" stroke="#2b6ca3" stroke-width="1.6"/>
<line x1="27.20" y1="237.30" x2="107.50" y2="237.30" stroke="#c8102e" stroke-width="1.6"/>
<line x1="27.20" y1="247.30" x2="106.80" y2="247.30" stroke="#f79a2a" stroke-width="1.6"/>
<line x1="27.20" y1="250.10" x2="106.80" y2="250.10" stroke="#2b6ca3" stroke-width="1.6"/>
<line x1="27.20" y1="252.90" x2="106.80" y2="252.90" stroke="#c8102e" stroke-width="1.6"/>
<line x1="27.20" y1="265.80" x2="105.40" y2="265.80" stroke="#f79a2a" stroke-width="1.6"/>
<line x1="27.20" y1="268.60" x2="105.40" y2="268.60" stroke="#2b6ca3" stroke-width="1.6"/>
<line x1="27.20" y1="271.40" x2="105.40" y2="271.40" stroke="#c8102e" stroke-width="1.6"/>
<line x1="27.20" y1="281.50" x2="101.20" y2="281.50" stroke="#f79a2a" stroke-width="1.6"/>
<line x1="27.20" y1="284.30" x2="101.20" y2="284.30" stroke="#2b6ca3" stroke-width="1.6"/>
<line x1="27.20" y1="287.10" x2="101.20" y2="287.10" stroke="#c8102e" stroke-width="1.6"/>
<line x1="27.20" y1="294.40" x2="101.00" y2="294.40" stroke="#f79a2a" stroke-width="1.6"/>
<line x1="27.20" y1="297.20" x2="101.00" y2="297.20" stroke="#2b6ca3" stroke-width="1.6"/>
<line x1="27.20" y1="300.00" x2="101.00" y2="300.00" stroke="#c8102e" stroke-width="1.6"/>
<line x1="27.20" y1="310.30" x2="99.20" y2="310.30" stroke="#f79a2a" stroke-width="1.6"/>
<line x1="27.20" y1="313.10" x2="99.20" y2="313.10" stroke="#2b6ca3" stroke-width="1.6"/>
<line x1="27.20" y1="315.90" x2="99.20" y2="315.90" stroke="#c8102e" stroke-width="1.6"/>
<line x1="27.20" y1="328.20" x2="96.30" y2="328.20" stroke="#f79a2a" stroke-width="1.6"/>
<line x1="27.20" y1="331.00" x2="96.30" y2="331.00" stroke="#2b6ca3" stroke-width="1.6"/>
<line x1="27.20" y1="333.80" x2="96.30" y2="333.80" stroke="#c8102e" stroke-width="1.6"/>
<line x1="26.30" y1="176.40" x2="26.30" y2="341.30" stroke="#333" stroke-width="1.1"/>
<line x1="23.30" y1="194.00" x2="26.30" y2="194.00" stroke="#333" stroke-width="0.9"/>
<line x1="23.30" y1="209.70" x2="26.30" y2="209.70" stroke="#333" stroke-width="0.9"/>
<line x1="23.30" y1="225.30" x2="26.30" y2="225.30" stroke="#333" stroke-width="0.9"/>
<line x1="23.30" y1="240.60" x2="26.30" y2="240.60" stroke="#333" stroke-width="0.9"/>
<line x1="23.30" y1="256.20" x2="26.30" y2="256.20" stroke="#333" stroke-width="0.9"/>
<line x1="23.30" y1="278.10" x2="26.30" y2="278.10" stroke="#333" stroke-width="0.9"/>
<line x1="23.30" y1="291.10" x2="26.30" y2="291.10" stroke="#333" stroke-width="0.9"/>
<line x1="23.30" y1="304.30" x2="26.30" y2="304.30" stroke="#333" stroke-width="0.9"/>
<line x1="23.30" y1="319.20" x2="26.30" y2="319.20" stroke="#333" stroke-width="0.9"/>
<line x1="23.30" y1="341.30" x2="26.30" y2="341.30" stroke="#333" stroke-width="0.9"/>
<text x="22.40" y="190.40" font-size="6.8" fill="#222" text-anchor="end" stroke="#222" stroke-width="0.15">1</text>
<text x="22.40" y="205.80" font-size="6.8" fill="#222" text-anchor="end" stroke="#222" stroke-width="0.15">2</text>
<text x="22.40" y="221.20" font-size="6.8" fill="#222" text-anchor="end" stroke="#222" stroke-width="0.15">3</text>
<text x="22.40" y="236.80" font-size="6.8" fill="#222" text-anchor="end" stroke="#222" stroke-width="0.15">4</text>
<text x="22.40" y="252.40" font-size="6.8" fill="#222" text-anchor="end" stroke="#222" stroke-width="0.15">5</text>
<text x="22.40" y="271.20" font-size="6.8" fill="#222" text-anchor="end" stroke="#222" stroke-width="0.15">6</text>
<text x="22.40" y="286.60" font-size="6.8" fill="#222" text-anchor="end" stroke="#222" stroke-width="0.15">7</text>
<text x="22.40" y="299.50" font-size="6.8" fill="#222" text-anchor="end" stroke="#222" stroke-width="0.15">8</text>
<text x="22.40" y="315.30" font-size="6.8" fill="#222" text-anchor="end" stroke="#222" stroke-width="0.15">9</text>
<text x="22.40" y="333.70" font-size="6.8" fill="#222" text-anchor="end" stroke="#222" stroke-width="0.15">10</text>
<line x1="116.70" y1="181.00" x2="116.70" y2="341.30" stroke="#333" stroke-width="1.1"/>
<line x1="116.70" y1="194.50" x2="119.50" y2="194.50" stroke="#333" stroke-width="0.9"/>
<line x1="116.70" y1="210.00" x2="119.50" y2="210.00" stroke="#333" stroke-width="0.9"/>
<line x1="116.70" y1="225.30" x2="119.50" y2="225.30" stroke="#333" stroke-width="0.9"/>
<line x1="116.70" y1="240.50" x2="119.50" y2="240.50" stroke="#333" stroke-width="0.9"/>
<line x1="116.70" y1="256.30" x2="119.50" y2="256.30" stroke="#333" stroke-width="0.9"/>
<line x1="116.70" y1="279.30" x2="119.50" y2="279.30" stroke="#333" stroke-width="0.9"/>
<line x1="116.70" y1="289.50" x2="119.50" y2="289.50" stroke="#333" stroke-width="0.9"/>
<line x1="116.70" y1="304.50" x2="119.50" y2="304.50" stroke="#333" stroke-width="0.9"/>
<line x1="116.70" y1="320.00" x2="119.50" y2="320.00" stroke="#333" stroke-width="0.9"/>
<line x1="116.70" y1="341.30" x2="119.50" y2="341.30" stroke="#333" stroke-width="0.9"/>
<text x="123.60" y="186.70" font-size="6.4" fill="#2b5e96" text-anchor="start" stroke="#2b5e96" stroke-width="0.15">1. positive regulation of wound</text>
<text x="130.00" y="193.10" font-size="6.4" fill="#2b5e96" text-anchor="start" stroke="#2b5e96" stroke-width="0.15">healing</text>
<text x="123.60" y="202.30" font-size="6.4" fill="#2b5e96" text-anchor="start" stroke="#2b5e96" stroke-width="0.15">2. positive regulation of</text>
<text x="130.00" y="208.90" font-size="6.4" fill="#2b5e96" text-anchor="start" stroke="#2b5e96" stroke-width="0.15">macrophage migration</text>
<text x="123.60" y="217.90" font-size="6.4" fill="#2b5e96" text-anchor="start" stroke="#2b5e96" stroke-width="0.15">3. positive regulation of</text>
<text x="130.00" y="224.60" font-size="6.4" fill="#2b5e96" text-anchor="start" stroke="#2b5e96" stroke-width="0.15">response to wounding</text>
<text x="123.60" y="234.20" font-size="6.4" fill="#2b5e96" text-anchor="start" stroke="#2b5e96" stroke-width="0.15">4. complement component C5a</text>
<text x="130.00" y="240.50" font-size="6.4" fill="#2b5e96" text-anchor="start" stroke="#2b5e96" stroke-width="0.15">signaling pathway</text>
<text x="123.60" y="248.50" font-size="6.4" fill="#2b5e96" text-anchor="start" stroke="#2b5e96" stroke-width="0.15">5. regulation of response to</text>
<text x="130.00" y="255.20" font-size="6.4" fill="#2b5e96" text-anchor="start" stroke="#2b5e96" stroke-width="0.15">wounding</text>
<text x="123.60" y="265.20" font-size="6.4" fill="#2b5e96" text-anchor="start" stroke="#2b5e96" stroke-width="0.15">6. phospholipase C-activating</text>
<text x="130.00" y="271.70" font-size="6.4" fill="#2b5e96" text-anchor="start" stroke="#2b5e96" stroke-width="0.15">G-protein coupled receptor</text>
<text x="130.00" y="278.40" font-size="6.4" fill="#2b5e96" text-anchor="start" stroke="#2b5e96" stroke-width="0.15">signaling pathway</text>
<text x="123.60" y="287.20" font-size="6.4" fill="#2b5e96" text-anchor="start" stroke="#2b5e96" stroke-width="0.15">7. regulation of wound healing</text>
<text x="123.60" y="296.00" font-size="6.4" fill="#2b5e96" text-anchor="start" stroke="#2b5e96" stroke-width="0.15">8. regulation of macrophage</text>
<text x="130.00" y="302.90" font-size="6.4" fill="#2b5e96" text-anchor="start" stroke="#2b5e96" stroke-width="0.15">migration</text>
<text x="123.60" y="311.50" font-size="6.4" fill="#2b5e96" text-anchor="start" stroke="#2b5e96" stroke-width="0.15">9. complement receptor mediated</text>
<text x="130.00" y="318.00" font-size="6.4" fill="#2b5e96" text-anchor="start" stroke="#2b5e96" stroke-width="0.15">signaling pathway</text>
<text x="119.50" y="327.20" font-size="6.4" fill="#2b5e96" text-anchor="start" stroke="#2b5e96" stroke-width="0.15">10. positive regulation of</text>
<text x="130.00" y="334.20" font-size="6.4" fill="#2b5e96" text-anchor="start" stroke="#2b5e96" stroke-width="0.15">vascular endothelial growth</text>
<text x="130.00" y="340.90" font-size="6.4" fill="#2b5e96" text-anchor="start" stroke="#2b5e96" stroke-width="0.15">factor production</text>
<rect x="25.50" y="350.60" width="5.20" height="5.20" fill="#f79a2a"/>
<text x="33.00" y="355.90" font-size="7.2" fill="#333" text-anchor="start" stroke="#333" stroke-width="0.15">RGS1</text>
<rect x="55.50" y="350.60" width="5.20" height="5.20" fill="#1f5c98"/>
<text x="63.80" y="355.90" font-size="7.2" fill="#333" text-anchor="start" stroke="#333" stroke-width="0.15">RGS13</text>
<rect x="91.20" y="350.60" width="5.20" height="5.20" fill="#c8102e"/>
<text x="98.00" y="355.90" font-size="7.2" fill="#333" text-anchor="start" stroke="#333" stroke-width="0.15">RGS16</text>
<line x1="45.40" y1="421.80" x2="444.50" y2="421.80" stroke="#111" stroke-width="1.0"/>
<line x1="45.40" y1="421.80" x2="45.40" y2="480.86" stroke="#222" stroke-width="1.1"/>
<line x1="42.20" y1="421.80" x2="45.40" y2="421.80" stroke="#222" stroke-width="1.0"/>
<text x="39.65" y="424.20" font-size="7.0" fill="#222" text-anchor="end" stroke="#222" stroke-width="0.15" letter-spacing="0.35">0</text>
<line x1="42.20" y1="436.44" x2="45.40" y2="436.44" stroke="#222" stroke-width="1.0"/>
<text x="39.65" y="438.84" font-size="7.0" fill="#222" text-anchor="end" stroke="#222" stroke-width="0.15" letter-spacing="0.35">&#8722;2</text>
<line x1="42.20" y1="451.08" x2="45.40" y2="451.08" stroke="#222" stroke-width="1.0"/>
<text x="39.65" y="453.48" font-size="7.0" fill="#222" text-anchor="end" stroke="#222" stroke-width="0.15" letter-spacing="0.35">&#8722;4</text>
<line x1="42.20" y1="465.72" x2="45.40" y2="465.72" stroke="#222" stroke-width="1.0"/>
<text x="39.65" y="468.12" font-size="7.0" fill="#222" text-anchor="end" stroke="#222" stroke-width="0.15" letter-spacing="0.35">&#8722;6</text>
<line x1="42.20" y1="480.36" x2="46.70" y2="480.36" stroke="#222" stroke-width="1.0"/>
<text x="39.65" y="482.76" font-size="7.0" fill="#222" text-anchor="end" stroke="#222" stroke-width="0.15" letter-spacing="0.35">&#8722;8</text>
<line x1="45.40" y1="489.20" x2="45.40" y2="548.40" stroke="#222" stroke-width="1.1"/>
<line x1="42.20" y1="489.70" x2="46.70" y2="489.70" stroke="#222" stroke-width="1.0"/>
<text x="39.65" y="492.10" font-size="7.0" fill="#222" text-anchor="end" stroke="#222" stroke-width="0.15" letter-spacing="0.35">&#8722;10</text>
<line x1="42.20" y1="509.10" x2="45.40" y2="509.10" stroke="#222" stroke-width="1.0"/>
<text x="39.65" y="511.50" font-size="7.0" fill="#222" text-anchor="end" stroke="#222" stroke-width="0.15" letter-spacing="0.35">&#8722;15</text>
<line x1="42.20" y1="528.50" x2="45.40" y2="528.50" stroke="#222" stroke-width="1.0"/>
<text x="39.65" y="530.90" font-size="7.0" fill="#222" text-anchor="end" stroke="#222" stroke-width="0.15" letter-spacing="0.35">&#8722;20</text>
<line x1="42.20" y1="547.90" x2="45.40" y2="547.90" stroke="#222" stroke-width="1.0"/>
<text x="39.65" y="550.30" font-size="7.0" fill="#222" text-anchor="end" stroke="#222" stroke-width="0.15" letter-spacing="0.35">&#8722;25</text>
<text transform="translate(23.1,484.8) rotate(-90) scale(0.74,1)" font-size="8.4" fill="#222" stroke="#222" stroke-width="0.3" text-anchor="middle">Fold change <tspan font-style="italic">versus</tspan> CTRL</text>
<text x="59.15" y="412.60" font-size="7.3" fill="#222" text-anchor="middle" font-style="italic" stroke="#222" stroke-width="0.15">CCL1</text>
<rect x="48.50" y="421.80" width="7.10" height="58.56" fill="#3cb54a"/>
<line x1="48.50" y1="421.80" x2="48.50" y2="480.36" stroke="#111" stroke-width="0.8"/>
<line x1="55.60" y1="421.80" x2="55.60" y2="480.36" stroke="#111" stroke-width="0.8"/>
<rect x="48.50" y="489.70" width="7.10" height="43.84" fill="#3cb54a"/>
<line x1="48.50" y1="489.70" x2="48.50" y2="533.94" stroke="#111" stroke-width="0.8"/>
<line x1="55.60" y1="489.70" x2="55.60" y2="533.94" stroke="#111" stroke-width="0.8"/>
<line x1="48.10" y1="533.54" x2="56.00" y2="533.54" stroke="#111" stroke-width="0.8"/>
<line x1="52.05" y1="519.58" x2="52.05" y2="547.51" stroke="#111" stroke-width="0.8"/>
<line x1="50.45" y1="519.58" x2="53.65" y2="519.58" stroke="#111" stroke-width="0.8"/>
<line x1="50.45" y1="547.51" x2="53.65" y2="547.51" stroke="#111" stroke-width="0.8"/>
<text x="52.15" y="555.40" font-size="7.8" fill="#111" text-anchor="middle" stroke="#111" stroke-width="0.15">***</text>
<rect x="55.60" y="421.80" width="7.10" height="58.56" fill="#fbbb1e"/>
<line x1="55.60" y1="421.80" x2="55.60" y2="480.36" stroke="#111" stroke-width="0.8"/>
<line x1="62.70" y1="421.80" x2="62.70" y2="480.36" stroke="#111" stroke-width="0.8"/>
<rect x="55.60" y="489.70" width="7.10" height="19.40" fill="#fbbb1e"/>
<line x1="55.60" y1="489.70" x2="55.60" y2="509.50" stroke="#111" stroke-width="0.8"/>
<line x1="62.70" y1="489.70" x2="62.70" y2="509.50" stroke="#111" stroke-width="0.8"/>
<line x1="55.20" y1="509.10" x2="63.10" y2="509.10" stroke="#111" stroke-width="0.8"/>
<line x1="59.15" y1="500.56" x2="59.15" y2="518.02" stroke="#111" stroke-width="0.8"/>
<line x1="57.55" y1="500.56" x2="60.75" y2="500.56" stroke="#111" stroke-width="0.8"/>
<line x1="57.55" y1="518.02" x2="60.75" y2="518.02" stroke="#111" stroke-width="0.8"/>
<text x="59.25" y="530.80" font-size="7.8" fill="#111" text-anchor="middle" stroke="#111" stroke-width="0.15">***</text>
<rect x="62.70" y="421.80" width="7.10" height="58.56" fill="#5c2a6e"/>
<line x1="62.70" y1="421.80" x2="62.70" y2="480.36" stroke="#111" stroke-width="0.8"/>
<line x1="69.80" y1="421.80" x2="69.80" y2="480.36" stroke="#111" stroke-width="0.8"/>
<rect x="62.70" y="489.70" width="7.10" height="24.83" fill="#5c2a6e"/>
<line x1="62.70" y1="489.70" x2="62.70" y2="514.93" stroke="#111" stroke-width="0.8"/>
<line x1="69.80" y1="489.70" x2="69.80" y2="514.93" stroke="#111" stroke-width="0.8"/>
<line x1="62.30" y1="514.53" x2="70.20" y2="514.53" stroke="#111" stroke-width="0.8"/>
<line x1="66.25" y1="511.43" x2="66.25" y2="517.64" stroke="#111" stroke-width="0.8"/>
<line x1="64.65" y1="511.43" x2="67.85" y2="511.43" stroke="#111" stroke-width="0.8"/>
<line x1="64.65" y1="517.64" x2="67.85" y2="517.64" stroke="#111" stroke-width="0.8"/>
<text x="66.35" y="526.00" font-size="7.8" fill="#111" text-anchor="middle" stroke="#111" stroke-width="0.15">***</text>
<text x="87.66" y="412.60" font-size="7.3" fill="#222" text-anchor="middle" font-style="italic" stroke="#222" stroke-width="0.15">F2RL2</text>
<rect x="77.02" y="421.80" width="7.10" height="35.58" fill="#3cb54a" stroke="#111" stroke-width="0.8"/>
<line x1="80.56" y1="450.35" x2="80.56" y2="465.28" stroke="#111" stroke-width="0.8"/>
<line x1="78.97" y1="450.35" x2="82.16" y2="450.35" stroke="#111" stroke-width="0.8"/>
<line x1="78.97" y1="465.28" x2="82.16" y2="465.28" stroke="#111" stroke-width="0.8"/>
<text x="80.66" y="472.20" font-size="7.8" fill="#111" text-anchor="middle" stroke="#111" stroke-width="0.15">**</text>
<rect x="84.11" y="421.80" width="7.10" height="25.77" fill="#fbbb1e" stroke="#111" stroke-width="0.8"/>
<line x1="87.66" y1="443.03" x2="87.66" y2="452.54" stroke="#111" stroke-width="0.8"/>
<line x1="86.06" y1="443.03" x2="89.26" y2="443.03" stroke="#111" stroke-width="0.8"/>
<line x1="86.06" y1="452.54" x2="89.26" y2="452.54" stroke="#111" stroke-width="0.8"/>
<text x="87.76" y="460.40" font-size="7.8" fill="#111" text-anchor="middle" stroke="#111" stroke-width="0.15">**</text>
<rect x="91.22" y="421.80" width="7.10" height="27.96" fill="#5c2a6e" stroke="#111" stroke-width="0.8"/>
<line x1="94.77" y1="446.69" x2="94.77" y2="454.01" stroke="#111" stroke-width="0.8"/>
<line x1="93.17" y1="446.69" x2="96.36" y2="446.69" stroke="#111" stroke-width="0.8"/>
<line x1="93.17" y1="454.01" x2="96.36" y2="454.01" stroke="#111" stroke-width="0.8"/>
<text x="94.86" y="461.50" font-size="7.8" fill="#111" text-anchor="middle" stroke="#111" stroke-width="0.15">**</text>
<text x="116.18" y="412.60" font-size="7.3" fill="#222" text-anchor="middle" font-style="italic" stroke="#222" stroke-width="0.15">PROS1</text>
<rect x="105.53" y="421.80" width="7.10" height="16.03" fill="#3cb54a" stroke="#111" stroke-width="0.8"/>
<line x1="109.08" y1="437.32" x2="109.08" y2="438.34" stroke="#111" stroke-width="0.8"/>
<line x1="107.48" y1="437.32" x2="110.68" y2="437.32" stroke="#111" stroke-width="0.8"/>
<line x1="107.48" y1="438.34" x2="110.68" y2="438.34" stroke="#111" stroke-width="0.8"/>
<text x="109.18" y="446.50" font-size="7.8" fill="#111" text-anchor="middle" stroke="#111" stroke-width="0.15">***</text>
<rect x="112.63" y="421.80" width="7.10" height="16.62" fill="#fbbb1e" stroke="#111" stroke-width="0.8"/>
<line x1="116.18" y1="436.29" x2="116.18" y2="440.61" stroke="#111" stroke-width="0.8"/>
<line x1="114.58" y1="436.29" x2="117.78" y2="436.29" stroke="#111" stroke-width="0.8"/>
<line x1="114.58" y1="440.61" x2="117.78" y2="440.61" stroke="#111" stroke-width="0.8"/>
<text x="116.28" y="450.30" font-size="7.8" fill="#111" text-anchor="middle" stroke="#111" stroke-width="0.15">***</text>
<rect x="119.73" y="421.80" width="7.10" height="19.03" fill="#5c2a6e" stroke="#111" stroke-width="0.8"/>
<line x1="123.28" y1="436.81" x2="123.28" y2="444.49" stroke="#111" stroke-width="0.8"/>
<line x1="121.68" y1="436.81" x2="124.88" y2="436.81" stroke="#111" stroke-width="0.8"/>
<line x1="121.68" y1="444.49" x2="124.88" y2="444.49" stroke="#111" stroke-width="0.8"/>
<text x="123.38" y="454.40" font-size="7.8" fill="#111" text-anchor="middle" stroke="#111" stroke-width="0.15">***</text>
<text x="144.70" y="412.60" font-size="7.3" fill="#222" text-anchor="middle" font-style="italic" stroke="#222" stroke-width="0.15">THBS1</text>
<rect x="134.05" y="421.80" width="7.10" height="27.82" fill="#3cb54a" stroke="#111" stroke-width="0.8"/>
<line x1="137.60" y1="445.74" x2="137.60" y2="453.28" stroke="#111" stroke-width="0.8"/>
<line x1="136.00" y1="445.74" x2="139.20" y2="445.74" stroke="#111" stroke-width="0.8"/>
<line x1="136.00" y1="453.28" x2="139.20" y2="453.28" stroke="#111" stroke-width="0.8"/>
<text x="137.70" y="461.50" font-size="7.8" fill="#111" text-anchor="middle" stroke="#111" stroke-width="0.15">***</text>
<rect x="141.15" y="421.80" width="7.10" height="21.37" fill="#fbbb1e" stroke="#111" stroke-width="0.8"/>
<line x1="144.70" y1="440.54" x2="144.70" y2="446.83" stroke="#111" stroke-width="0.8"/>
<line x1="143.10" y1="440.54" x2="146.30" y2="440.54" stroke="#111" stroke-width="0.8"/>
<line x1="143.10" y1="446.83" x2="146.30" y2="446.83" stroke="#111" stroke-width="0.8"/>
<text x="144.80" y="455.90" font-size="7.8" fill="#111" text-anchor="middle" stroke="#111" stroke-width="0.15">***</text>
<rect x="148.25" y="421.80" width="7.10" height="24.45" fill="#5c2a6e" stroke="#111" stroke-width="0.8"/>
<line x1="151.80" y1="443.76" x2="151.80" y2="448.52" stroke="#111" stroke-width="0.8"/>
<line x1="150.20" y1="443.76" x2="153.40" y2="443.76" stroke="#111" stroke-width="0.8"/>
<line x1="150.20" y1="448.52" x2="153.40" y2="448.52" stroke="#111" stroke-width="0.8"/>
<text x="151.90" y="460.90" font-size="7.8" fill="#111" text-anchor="middle" stroke="#111" stroke-width="0.15">***</text>
<text x="173.21" y="412.60" font-size="7.3" fill="#222" text-anchor="middle" font-style="italic" stroke="#222" stroke-width="0.15">C3AR1</text>
<rect x="162.56" y="421.80" width="7.10" height="16.03" fill="#3cb54a" stroke="#111" stroke-width="0.8"/>
<line x1="166.11" y1="437.32" x2="166.11" y2="438.34" stroke="#111" stroke-width="0.8"/>
<line x1="164.51" y1="437.32" x2="167.71" y2="437.32" stroke="#111" stroke-width="0.8"/>
<line x1="164.51" y1="438.34" x2="167.71" y2="438.34" stroke="#111" stroke-width="0.8"/>
<text x="166.21" y="448.00" font-size="7.8" fill="#111" text-anchor="middle" stroke="#111" stroke-width="0.15">***</text>
<rect x="169.66" y="421.80" width="7.10" height="16.84" fill="#fbbb1e" stroke="#111" stroke-width="0.8"/>
<line x1="173.21" y1="436.44" x2="173.21" y2="440.83" stroke="#111" stroke-width="0.8"/>
<line x1="171.61" y1="436.44" x2="174.81" y2="436.44" stroke="#111" stroke-width="0.8"/>
<line x1="171.61" y1="440.83" x2="174.81" y2="440.83" stroke="#111" stroke-width="0.8"/>
<text x="173.31" y="452.40" font-size="7.8" fill="#111" text-anchor="middle" stroke="#111" stroke-width="0.15">***</text>
<rect x="176.76" y="421.80" width="7.10" height="14.35" fill="#5c2a6e" stroke="#111" stroke-width="0.8"/>
<line x1="180.31" y1="435.71" x2="180.31" y2="436.59" stroke="#111" stroke-width="0.8"/>
<line x1="178.71" y1="435.71" x2="181.91" y2="435.71" stroke="#111" stroke-width="0.8"/>
<line x1="178.71" y1="436.59" x2="181.91" y2="436.59" stroke="#111" stroke-width="0.8"/>
<text x="180.41" y="444.60" font-size="7.8" fill="#111" text-anchor="middle" stroke="#111" stroke-width="0.15">**</text>
<text x="201.72" y="412.60" font-size="7.3" fill="#222" text-anchor="middle" font-style="italic" stroke="#222" stroke-width="0.15">C5AR1</text>
<rect x="191.07" y="421.80" width="7.10" height="52.26" fill="#3cb54a" stroke="#111" stroke-width="0.8"/>
<line x1="194.62" y1="469.01" x2="194.62" y2="479.63" stroke="#111" stroke-width="0.8"/>
<line x1="193.03" y1="469.01" x2="196.22" y2="469.01" stroke="#111" stroke-width="0.8"/>
<line x1="193.03" y1="479.63" x2="196.22" y2="479.63" stroke="#111" stroke-width="0.8"/>
<text x="194.72" y="487.20" font-size="7.8" fill="#111" text-anchor="middle" stroke="#111" stroke-width="0.15">***</text>
<rect x="198.17" y="421.80" width="7.10" height="42.46" fill="#fbbb1e" stroke="#111" stroke-width="0.8"/>
<line x1="201.72" y1="457.67" x2="201.72" y2="470.84" stroke="#111" stroke-width="0.8"/>
<line x1="200.12" y1="457.67" x2="203.32" y2="457.67" stroke="#111" stroke-width="0.8"/>
<line x1="200.12" y1="470.84" x2="203.32" y2="470.84" stroke="#111" stroke-width="0.8"/>
<text x="201.82" y="480.80" font-size="7.8" fill="#111" text-anchor="middle" stroke="#111" stroke-width="0.15">***</text>
<rect x="205.27" y="421.80" width="7.10" height="49.04" fill="#5c2a6e" stroke="#111" stroke-width="0.8"/>
<line x1="208.82" y1="466.45" x2="208.82" y2="476.33" stroke="#111" stroke-width="0.8"/>
<line x1="207.22" y1="466.45" x2="210.42" y2="466.45" stroke="#111" stroke-width="0.8"/>
<line x1="207.22" y1="476.33" x2="210.42" y2="476.33" stroke="#111" stroke-width="0.8"/>
<text x="208.92" y="485.50" font-size="7.8" fill="#111" text-anchor="middle" stroke="#111" stroke-width="0.15">***</text>
<text x="230.24" y="412.60" font-size="7.3" fill="#222" text-anchor="middle" font-style="italic" stroke="#222" stroke-width="0.15">C5AR2</text>
<rect x="219.59" y="421.80" width="7.10" height="12.52" fill="#3cb54a" stroke="#111" stroke-width="0.8"/>
<line x1="223.14" y1="433.88" x2="223.14" y2="434.76" stroke="#111" stroke-width="0.8"/>
<line x1="221.54" y1="433.88" x2="224.74" y2="433.88" stroke="#111" stroke-width="0.8"/>
<line x1="221.54" y1="434.76" x2="224.74" y2="434.76" stroke="#111" stroke-width="0.8"/>
<text x="223.24" y="442.80" font-size="7.8" fill="#111" text-anchor="middle" stroke="#111" stroke-width="0.15">***</text>
<rect x="226.69" y="421.80" width="7.10" height="11.13" fill="#fbbb1e" stroke="#111" stroke-width="0.8"/>
<line x1="230.24" y1="432.56" x2="230.24" y2="433.29" stroke="#111" stroke-width="0.8"/>
<line x1="228.64" y1="432.56" x2="231.84" y2="432.56" stroke="#111" stroke-width="0.8"/>
<line x1="228.64" y1="433.29" x2="231.84" y2="433.29" stroke="#111" stroke-width="0.8"/>
<text x="230.34" y="446.60" font-size="7.8" fill="#111" text-anchor="middle" stroke="#111" stroke-width="0.15">***</text>
<rect x="233.79" y="421.80" width="7.10" height="12.52" fill="#5c2a6e" stroke="#111" stroke-width="0.8"/>
<line x1="237.34" y1="433.88" x2="237.34" y2="434.76" stroke="#111" stroke-width="0.8"/>
<line x1="235.74" y1="433.88" x2="238.94" y2="433.88" stroke="#111" stroke-width="0.8"/>
<line x1="235.74" y1="434.76" x2="238.94" y2="434.76" stroke="#111" stroke-width="0.8"/>
<text x="237.44" y="442.80" font-size="7.8" fill="#111" text-anchor="middle" stroke="#111" stroke-width="0.15">***</text>
<text x="258.75" y="412.60" font-size="7.3" fill="#222" text-anchor="middle" font-style="italic" stroke="#222" stroke-width="0.15">MMP14</text>
<rect x="248.11" y="421.80" width="7.10" height="27.96" fill="#3cb54a" stroke="#111" stroke-width="0.8"/>
<line x1="251.66" y1="447.05" x2="251.66" y2="452.18" stroke="#111" stroke-width="0.8"/>
<line x1="250.06" y1="447.05" x2="253.26" y2="447.05" stroke="#111" stroke-width="0.8"/>
<line x1="250.06" y1="452.18" x2="253.26" y2="452.18" stroke="#111" stroke-width="0.8"/>
<text x="251.76" y="461.90" font-size="7.8" fill="#111" text-anchor="middle" stroke="#111" stroke-width="0.15">***</text>
<rect x="255.21" y="421.80" width="7.10" height="18.23" fill="#fbbb1e" stroke="#111" stroke-width="0.8"/>
<line x1="258.75" y1="439.37" x2="258.75" y2="440.69" stroke="#111" stroke-width="0.8"/>
<line x1="257.15" y1="439.37" x2="260.36" y2="439.37" stroke="#111" stroke-width="0.8"/>
<line x1="257.15" y1="440.69" x2="260.36" y2="440.69" stroke="#111" stroke-width="0.8"/>
<text x="258.86" y="458.00" font-size="7.8" fill="#111" text-anchor="middle" stroke="#111" stroke-width="0.15">***</text>
<rect x="262.31" y="421.80" width="7.10" height="24.38" fill="#5c2a6e" stroke="#111" stroke-width="0.8"/>
<line x1="265.86" y1="445.59" x2="265.86" y2="446.76" stroke="#111" stroke-width="0.8"/>
<line x1="264.25" y1="445.59" x2="267.46" y2="445.59" stroke="#111" stroke-width="0.8"/>
<line x1="264.25" y1="446.76" x2="267.46" y2="446.76" stroke="#111" stroke-width="0.8"/>
<text x="265.96" y="453.90" font-size="7.8" fill="#111" text-anchor="middle" stroke="#111" stroke-width="0.15">***</text>
<text x="287.27" y="412.60" font-size="7.3" fill="#222" text-anchor="middle" font-style="italic" stroke="#222" stroke-width="0.15">TIMP3</text>
<rect x="276.62" y="421.80" width="7.10" height="17.57" fill="#3cb54a" stroke="#111" stroke-width="0.8"/>
<line x1="280.17" y1="438.64" x2="280.17" y2="440.10" stroke="#111" stroke-width="0.8"/>
<line x1="278.57" y1="438.64" x2="281.77" y2="438.64" stroke="#111" stroke-width="0.8"/>
<line x1="278.57" y1="440.10" x2="281.77" y2="440.10" stroke="#111" stroke-width="0.8"/>
<text x="280.27" y="449.30" font-size="7.8" fill="#111" text-anchor="middle" stroke="#111" stroke-width="0.15">***</text>
<rect x="283.72" y="421.80" width="7.10" height="14.86" fill="#fbbb1e" stroke="#111" stroke-width="0.8"/>
<line x1="287.27" y1="436.07" x2="287.27" y2="437.25" stroke="#111" stroke-width="0.8"/>
<line x1="285.67" y1="436.07" x2="288.87" y2="436.07" stroke="#111" stroke-width="0.8"/>
<line x1="285.67" y1="437.25" x2="288.87" y2="437.25" stroke="#111" stroke-width="0.8"/>
<text x="287.37" y="445.20" font-size="7.8" fill="#111" text-anchor="middle" stroke="#111" stroke-width="0.15">**</text>
<rect x="290.82" y="421.80" width="7.10" height="16.25" fill="#5c2a6e" stroke="#111" stroke-width="0.8"/>
<line x1="294.37" y1="437.54" x2="294.37" y2="438.56" stroke="#111" stroke-width="0.8"/>
<line x1="292.77" y1="437.54" x2="295.97" y2="437.54" stroke="#111" stroke-width="0.8"/>
<line x1="292.77" y1="438.56" x2="295.97" y2="438.56" stroke="#111" stroke-width="0.8"/>
<text x="294.47" y="446.60" font-size="7.8" fill="#111" text-anchor="middle" stroke="#111" stroke-width="0.15">**</text>
<text x="315.78" y="412.60" font-size="7.3" fill="#222" text-anchor="middle" font-style="italic" stroke="#222" stroke-width="0.15">CCNA1</text>
<rect x="305.13" y="421.80" width="7.10" height="21.96" fill="#3cb54a" stroke="#111" stroke-width="0.8"/>
<line x1="308.69" y1="441.20" x2="308.69" y2="446.69" stroke="#111" stroke-width="0.8"/>
<line x1="307.08" y1="441.20" x2="310.29" y2="441.20" stroke="#111" stroke-width="0.8"/>
<line x1="307.08" y1="446.69" x2="310.29" y2="446.69" stroke="#111" stroke-width="0.8"/>
<text x="308.79" y="453.90" font-size="7.8" fill="#111" text-anchor="middle" stroke="#111" stroke-width="0.15">***</text>
<rect x="312.24" y="421.80" width="7.10" height="20.64" fill="#fbbb1e" stroke="#111" stroke-width="0.8"/>
<line x1="315.79" y1="439.73" x2="315.79" y2="445.22" stroke="#111" stroke-width="0.8"/>
<line x1="314.19" y1="439.73" x2="317.39" y2="439.73" stroke="#111" stroke-width="0.8"/>
<line x1="314.19" y1="445.22" x2="317.39" y2="445.22" stroke="#111" stroke-width="0.8"/>
<text x="315.89" y="458.60" font-size="7.8" fill="#111" text-anchor="middle" stroke="#111" stroke-width="0.15">***</text>
<rect x="319.33" y="421.80" width="7.10" height="17.93" fill="#5c2a6e" stroke="#111" stroke-width="0.8"/>
<line x1="322.88" y1="439.00" x2="322.88" y2="440.47" stroke="#111" stroke-width="0.8"/>
<line x1="321.28" y1="439.00" x2="324.49" y2="439.00" stroke="#111" stroke-width="0.8"/>
<line x1="321.28" y1="440.47" x2="324.49" y2="440.47" stroke="#111" stroke-width="0.8"/>
<text x="322.99" y="450.00" font-size="7.8" fill="#111" text-anchor="middle" stroke="#111" stroke-width="0.15">***</text>
<text x="344.30" y="412.60" font-size="7.3" fill="#222" text-anchor="middle" font-style="italic" stroke="#222" stroke-width="0.15">HPSE</text>
<rect x="333.65" y="421.80" width="7.10" height="17.93" fill="#3cb54a" stroke="#111" stroke-width="0.8"/>
<line x1="337.20" y1="437.17" x2="337.20" y2="442.30" stroke="#111" stroke-width="0.8"/>
<line x1="335.60" y1="437.17" x2="338.80" y2="437.17" stroke="#111" stroke-width="0.8"/>
<line x1="335.60" y1="442.30" x2="338.80" y2="442.30" stroke="#111" stroke-width="0.8"/>
<text x="337.30" y="449.30" font-size="7.8" fill="#111" text-anchor="middle" stroke="#111" stroke-width="0.15">***</text>
<rect x="340.75" y="421.80" width="7.10" height="14.86" fill="#fbbb1e" stroke="#111" stroke-width="0.8"/>
<line x1="344.30" y1="436.15" x2="344.30" y2="437.17" stroke="#111" stroke-width="0.8"/>
<line x1="342.70" y1="436.15" x2="345.90" y2="436.15" stroke="#111" stroke-width="0.8"/>
<line x1="342.70" y1="437.17" x2="345.90" y2="437.17" stroke="#111" stroke-width="0.8"/>
<text x="344.40" y="453.90" font-size="7.8" fill="#111" text-anchor="middle" stroke="#111" stroke-width="0.15">***</text>
<rect x="347.85" y="421.80" width="7.10" height="14.86" fill="#5c2a6e" stroke="#111" stroke-width="0.8"/>
<line x1="351.40" y1="436.15" x2="351.40" y2="437.17" stroke="#111" stroke-width="0.8"/>
<line x1="349.80" y1="436.15" x2="353.00" y2="436.15" stroke="#111" stroke-width="0.8"/>
<line x1="349.80" y1="437.17" x2="353.00" y2="437.17" stroke="#111" stroke-width="0.8"/>
<text x="351.50" y="445.20" font-size="7.8" fill="#111" text-anchor="middle" stroke="#111" stroke-width="0.15">***</text>
<text x="372.81" y="412.60" font-size="7.3" fill="#222" text-anchor="middle" font-style="italic" stroke="#222" stroke-width="0.15">IL1RL1</text>
<rect x="362.17" y="421.80" width="7.10" height="16.84" fill="#3cb54a" stroke="#111" stroke-width="0.8"/>
<line x1="365.72" y1="437.90" x2="365.72" y2="439.37" stroke="#111" stroke-width="0.8"/>
<line x1="364.12" y1="437.90" x2="367.32" y2="437.90" stroke="#111" stroke-width="0.8"/>
<line x1="364.12" y1="439.37" x2="367.32" y2="439.37" stroke="#111" stroke-width="0.8"/>
<text x="365.82" y="451.30" font-size="7.8" fill="#111" text-anchor="middle" stroke="#111" stroke-width="0.15">***</text>
<rect x="369.27" y="421.80" width="7.10" height="13.18" fill="#fbbb1e" stroke="#111" stroke-width="0.8"/>
<line x1="372.82" y1="434.39" x2="372.82" y2="435.56" stroke="#111" stroke-width="0.8"/>
<line x1="371.22" y1="434.39" x2="374.42" y2="434.39" stroke="#111" stroke-width="0.8"/>
<line x1="371.22" y1="435.56" x2="374.42" y2="435.56" stroke="#111" stroke-width="0.8"/>
<text x="372.92" y="447.10" font-size="7.8" fill="#111" text-anchor="middle" stroke="#111" stroke-width="0.15">***</text>
<rect x="376.37" y="421.80" width="7.10" height="17.93" fill="#5c2a6e" stroke="#111" stroke-width="0.8"/>
<line x1="379.92" y1="436.07" x2="379.92" y2="441.93" stroke="#111" stroke-width="0.8"/>
<line x1="378.31" y1="436.07" x2="381.52" y2="436.07" stroke="#111" stroke-width="0.8"/>
<line x1="378.31" y1="441.93" x2="381.52" y2="441.93" stroke="#111" stroke-width="0.8"/>
<text x="380.02" y="451.30" font-size="7.8" fill="#111" text-anchor="middle" stroke="#111" stroke-width="0.15">***</text>
<text x="401.33" y="412.60" font-size="7.3" fill="#222" text-anchor="middle" font-style="italic" stroke="#222" stroke-width="0.15">LPAR5</text>
<rect x="390.68" y="421.80" width="7.10" height="14.20" fill="#3cb54a" stroke="#111" stroke-width="0.8"/>
<line x1="394.23" y1="435.56" x2="394.23" y2="436.44" stroke="#111" stroke-width="0.8"/>
<line x1="392.63" y1="435.56" x2="395.83" y2="435.56" stroke="#111" stroke-width="0.8"/>
<line x1="392.63" y1="436.44" x2="395.83" y2="436.44" stroke="#111" stroke-width="0.8"/>
<text x="394.33" y="448.90" font-size="7.8" fill="#111" text-anchor="middle" stroke="#111" stroke-width="0.15">***</text>
<rect x="397.78" y="421.80" width="7.10" height="13.54" fill="#fbbb1e" stroke="#111" stroke-width="0.8"/>
<line x1="401.33" y1="434.83" x2="401.33" y2="435.85" stroke="#111" stroke-width="0.8"/>
<line x1="399.73" y1="434.83" x2="402.93" y2="434.83" stroke="#111" stroke-width="0.8"/>
<line x1="399.73" y1="435.85" x2="402.93" y2="435.85" stroke="#111" stroke-width="0.8"/>
<text x="401.43" y="444.40" font-size="7.8" fill="#111" text-anchor="middle" stroke="#111" stroke-width="0.15">***</text>
<rect x="404.88" y="421.80" width="7.10" height="13.91" fill="#5c2a6e" stroke="#111" stroke-width="0.8"/>
<line x1="408.43" y1="435.27" x2="408.43" y2="436.15" stroke="#111" stroke-width="0.8"/>
<line x1="406.83" y1="435.27" x2="410.03" y2="435.27" stroke="#111" stroke-width="0.8"/>
<line x1="406.83" y1="436.15" x2="410.03" y2="436.15" stroke="#111" stroke-width="0.8"/>
<text x="408.53" y="448.90" font-size="7.8" fill="#111" text-anchor="middle" stroke="#111" stroke-width="0.15">***</text>
<text x="429.84" y="412.60" font-size="7.3" fill="#222" text-anchor="middle" font-style="italic" stroke="#222" stroke-width="0.15">SPP1</text>
<rect x="419.19" y="421.80" width="7.10" height="31.77" fill="#3cb54a" stroke="#111" stroke-width="0.8"/>
<line x1="422.75" y1="448.52" x2="422.75" y2="458.40" stroke="#111" stroke-width="0.8"/>
<line x1="421.14" y1="448.52" x2="424.35" y2="448.52" stroke="#111" stroke-width="0.8"/>
<line x1="421.14" y1="458.40" x2="424.35" y2="458.40" stroke="#111" stroke-width="0.8"/>
<text x="422.85" y="466.60" font-size="7.8" fill="#111" text-anchor="middle" stroke="#111" stroke-width="0.15">***</text>
<rect x="426.30" y="421.80" width="7.10" height="44.14" fill="#fbbb1e" stroke="#111" stroke-width="0.8"/>
<line x1="429.85" y1="461.47" x2="429.85" y2="470.84" stroke="#111" stroke-width="0.8"/>
<line x1="428.25" y1="461.47" x2="431.45" y2="461.47" stroke="#111" stroke-width="0.8"/>
<line x1="428.25" y1="470.84" x2="431.45" y2="470.84" stroke="#111" stroke-width="0.8"/>
<text x="429.95" y="479.30" font-size="7.8" fill="#111" text-anchor="middle" stroke="#111" stroke-width="0.15">***</text>
<rect x="433.39" y="421.80" width="7.10" height="39.89" fill="#5c2a6e" stroke="#111" stroke-width="0.8"/>
<line x1="436.94" y1="455.11" x2="436.94" y2="467.18" stroke="#111" stroke-width="0.8"/>
<line x1="435.34" y1="455.11" x2="438.55" y2="455.11" stroke="#111" stroke-width="0.8"/>
<line x1="435.34" y1="467.18" x2="438.55" y2="467.18" stroke="#111" stroke-width="0.8"/>
<text x="437.05" y="474.70" font-size="7.8" fill="#111" text-anchor="middle" stroke="#111" stroke-width="0.15">***</text>
<text x="104.10" y="398.00" font-size="8.9" fill="#222" text-anchor="middle" stroke="#222" stroke-width="0.15">Cell migration</text>
<line x1="58.90" y1="401.70" x2="145.80" y2="401.70" stroke="#333" stroke-width="1.3"/>
<text x="202.70" y="386.00" font-size="8.9" fill="#222" text-anchor="middle" stroke="#222" stroke-width="0.15">Complement</text>
<text x="202.90" y="397.50" font-size="8.9" fill="#222" text-anchor="middle" stroke="#222" stroke-width="0.15">activation</text>
<line x1="173.00" y1="401.70" x2="231.30" y2="401.70" stroke="#333" stroke-width="1.3"/>
<text x="271.50" y="398.00" font-size="8.9" fill="#222" text-anchor="middle" stroke="#222" stroke-width="0.15">Proteolysis</text>
<line x1="258.00" y1="401.70" x2="287.00" y2="401.70" stroke="#333" stroke-width="1.3"/>
<text x="370.90" y="397.00" font-size="8.9" fill="#222" text-anchor="middle" stroke="#222" stroke-width="0.15">HSPC functions</text>
<line x1="315.50" y1="401.70" x2="430.00" y2="401.70" stroke="#333" stroke-width="1.3"/>
<rect x="392.30" y="524.60" width="13.50" height="5.60" fill="#3cb54a" stroke="#111" stroke-width="0.8"/>
<text x="411.60" y="529.80" font-size="7.1" fill="#333" text-anchor="start" stroke="#333" stroke-width="0.15">RGS1</text>
<rect x="392.30" y="533.75" width="13.50" height="5.60" fill="#fbbb1e" stroke="#111" stroke-width="0.8"/>
<text x="411.60" y="538.95" font-size="7.1" fill="#333" text-anchor="start" stroke="#333" stroke-width="0.15">RGS13</text>
<rect x="392.30" y="542.90" width="13.50" height="5.60" fill="#5c2a6e" stroke="#111" stroke-width="0.8"/>
<text x="411.60" y="548.10" font-size="7.1" fill="#333" text-anchor="start" stroke="#333" stroke-width="0.15">RGS16</text>
<rect x="2" y="0" width="1" height="563" fill="#f0f0f0"/>
<rect x="0" y="2" width="520" height="1" fill="#fafafa"/>
<rect x="517" y="0" width="1" height="563" fill="#fafafa"/>
<rect x="0" y="560" width="520" height="1" fill="#fafafa"/>
<rect x="0" y="0" width="1.6" height="563" fill="#000"/>
<rect x="0" y="0" width="520" height="1.45" fill="#000"/>
<rect x="518.42" y="0" width="1.58" height="563" fill="#000"/>
<rect x="0" y="561.45" width="520" height="1.55" fill="#000"/>
</svg></body></html>
